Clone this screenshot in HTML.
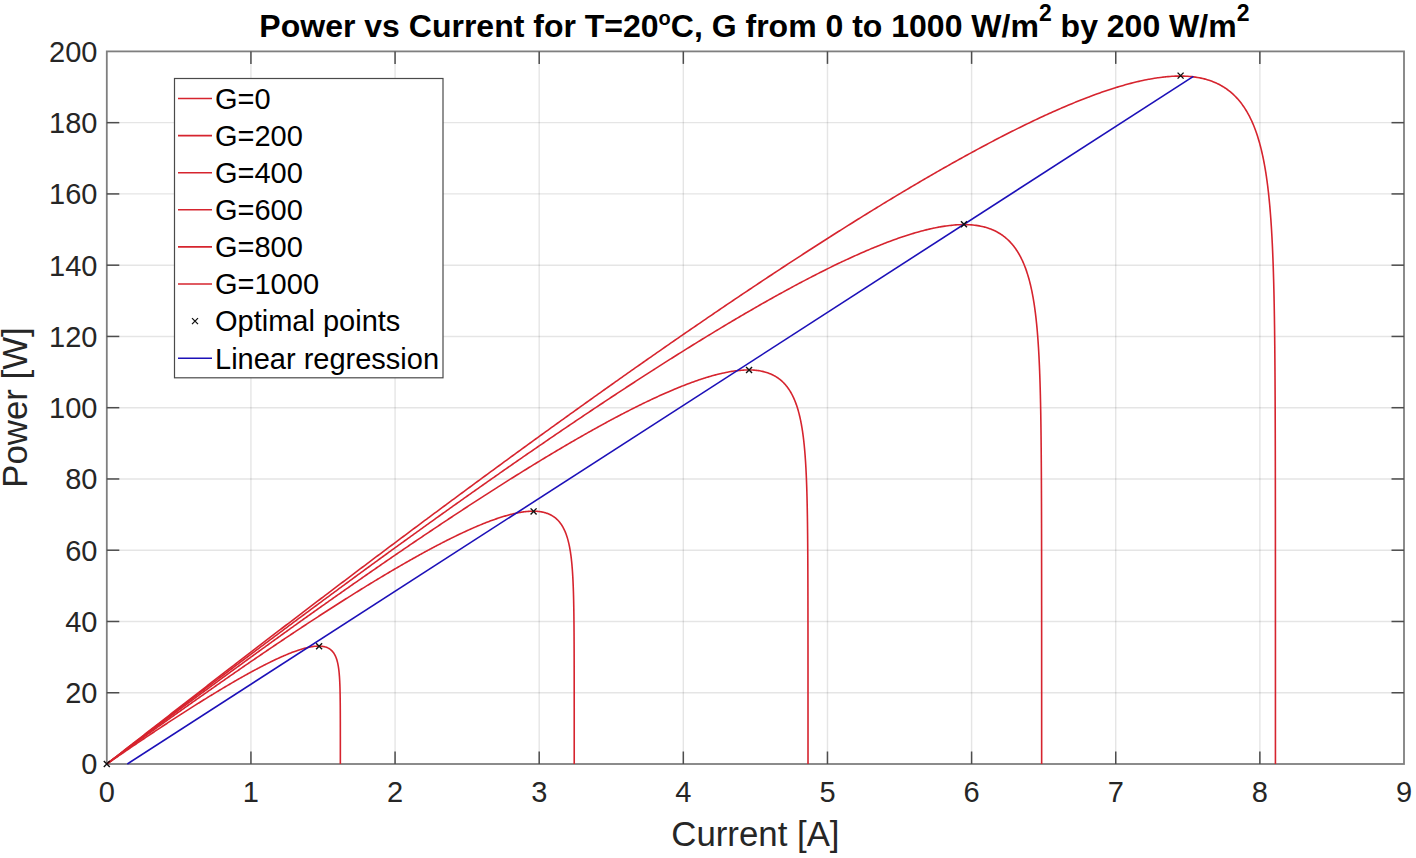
<!DOCTYPE html>
<html><head><meta charset="utf-8"><style>
html,body{margin:0;padding:0;background:#fff;}
body{width:1416px;height:858px;overflow:hidden;}
svg{display:block;font-family:"Liberation Sans",sans-serif;}
</style></head><body>
<svg width="1416" height="858" viewBox="0 0 1416 858">
<rect width="1416" height="858" fill="#fff"/>
<line x1="250.93" y1="51.40" x2="250.93" y2="764.00" stroke="#262626" stroke-opacity="0.12" stroke-width="1.4"/>
<line x1="395.07" y1="51.40" x2="395.07" y2="764.00" stroke="#262626" stroke-opacity="0.12" stroke-width="1.4"/>
<line x1="539.20" y1="51.40" x2="539.20" y2="764.00" stroke="#262626" stroke-opacity="0.12" stroke-width="1.4"/>
<line x1="683.33" y1="51.40" x2="683.33" y2="764.00" stroke="#262626" stroke-opacity="0.12" stroke-width="1.4"/>
<line x1="827.47" y1="51.40" x2="827.47" y2="764.00" stroke="#262626" stroke-opacity="0.12" stroke-width="1.4"/>
<line x1="971.60" y1="51.40" x2="971.60" y2="764.00" stroke="#262626" stroke-opacity="0.12" stroke-width="1.4"/>
<line x1="1115.73" y1="51.40" x2="1115.73" y2="764.00" stroke="#262626" stroke-opacity="0.12" stroke-width="1.4"/>
<line x1="1259.87" y1="51.40" x2="1259.87" y2="764.00" stroke="#262626" stroke-opacity="0.12" stroke-width="1.4"/>
<line x1="106.80" y1="692.74" x2="1404.00" y2="692.74" stroke="#262626" stroke-opacity="0.12" stroke-width="1.4"/>
<line x1="106.80" y1="621.48" x2="1404.00" y2="621.48" stroke="#262626" stroke-opacity="0.12" stroke-width="1.4"/>
<line x1="106.80" y1="550.22" x2="1404.00" y2="550.22" stroke="#262626" stroke-opacity="0.12" stroke-width="1.4"/>
<line x1="106.80" y1="478.96" x2="1404.00" y2="478.96" stroke="#262626" stroke-opacity="0.12" stroke-width="1.4"/>
<line x1="106.80" y1="407.70" x2="1404.00" y2="407.70" stroke="#262626" stroke-opacity="0.12" stroke-width="1.4"/>
<line x1="106.80" y1="336.44" x2="1404.00" y2="336.44" stroke="#262626" stroke-opacity="0.12" stroke-width="1.4"/>
<line x1="106.80" y1="265.18" x2="1404.00" y2="265.18" stroke="#262626" stroke-opacity="0.12" stroke-width="1.4"/>
<line x1="106.80" y1="193.92" x2="1404.00" y2="193.92" stroke="#262626" stroke-opacity="0.12" stroke-width="1.4"/>
<line x1="106.80" y1="122.66" x2="1404.00" y2="122.66" stroke="#262626" stroke-opacity="0.12" stroke-width="1.4"/>
<rect x="106.80" y="51.40" width="1297.20" height="712.60" fill="none" stroke="#7f7f7f" stroke-width="1.8"/>
<line x1="250.93" y1="764.00" x2="250.93" y2="751.50" stroke="#4d4d4d" stroke-width="1.5"/>
<line x1="250.93" y1="51.40" x2="250.93" y2="63.90" stroke="#4d4d4d" stroke-width="1.5"/>
<line x1="395.07" y1="764.00" x2="395.07" y2="751.50" stroke="#4d4d4d" stroke-width="1.5"/>
<line x1="395.07" y1="51.40" x2="395.07" y2="63.90" stroke="#4d4d4d" stroke-width="1.5"/>
<line x1="539.20" y1="764.00" x2="539.20" y2="751.50" stroke="#4d4d4d" stroke-width="1.5"/>
<line x1="539.20" y1="51.40" x2="539.20" y2="63.90" stroke="#4d4d4d" stroke-width="1.5"/>
<line x1="683.33" y1="764.00" x2="683.33" y2="751.50" stroke="#4d4d4d" stroke-width="1.5"/>
<line x1="683.33" y1="51.40" x2="683.33" y2="63.90" stroke="#4d4d4d" stroke-width="1.5"/>
<line x1="827.47" y1="764.00" x2="827.47" y2="751.50" stroke="#4d4d4d" stroke-width="1.5"/>
<line x1="827.47" y1="51.40" x2="827.47" y2="63.90" stroke="#4d4d4d" stroke-width="1.5"/>
<line x1="971.60" y1="764.00" x2="971.60" y2="751.50" stroke="#4d4d4d" stroke-width="1.5"/>
<line x1="971.60" y1="51.40" x2="971.60" y2="63.90" stroke="#4d4d4d" stroke-width="1.5"/>
<line x1="1115.73" y1="764.00" x2="1115.73" y2="751.50" stroke="#4d4d4d" stroke-width="1.5"/>
<line x1="1115.73" y1="51.40" x2="1115.73" y2="63.90" stroke="#4d4d4d" stroke-width="1.5"/>
<line x1="1259.87" y1="764.00" x2="1259.87" y2="751.50" stroke="#4d4d4d" stroke-width="1.5"/>
<line x1="1259.87" y1="51.40" x2="1259.87" y2="63.90" stroke="#4d4d4d" stroke-width="1.5"/>
<line x1="106.80" y1="692.74" x2="119.30" y2="692.74" stroke="#4d4d4d" stroke-width="1.5"/>
<line x1="1404.00" y1="692.74" x2="1391.50" y2="692.74" stroke="#4d4d4d" stroke-width="1.5"/>
<line x1="106.80" y1="621.48" x2="119.30" y2="621.48" stroke="#4d4d4d" stroke-width="1.5"/>
<line x1="1404.00" y1="621.48" x2="1391.50" y2="621.48" stroke="#4d4d4d" stroke-width="1.5"/>
<line x1="106.80" y1="550.22" x2="119.30" y2="550.22" stroke="#4d4d4d" stroke-width="1.5"/>
<line x1="1404.00" y1="550.22" x2="1391.50" y2="550.22" stroke="#4d4d4d" stroke-width="1.5"/>
<line x1="106.80" y1="478.96" x2="119.30" y2="478.96" stroke="#4d4d4d" stroke-width="1.5"/>
<line x1="1404.00" y1="478.96" x2="1391.50" y2="478.96" stroke="#4d4d4d" stroke-width="1.5"/>
<line x1="106.80" y1="407.70" x2="119.30" y2="407.70" stroke="#4d4d4d" stroke-width="1.5"/>
<line x1="1404.00" y1="407.70" x2="1391.50" y2="407.70" stroke="#4d4d4d" stroke-width="1.5"/>
<line x1="106.80" y1="336.44" x2="119.30" y2="336.44" stroke="#4d4d4d" stroke-width="1.5"/>
<line x1="1404.00" y1="336.44" x2="1391.50" y2="336.44" stroke="#4d4d4d" stroke-width="1.5"/>
<line x1="106.80" y1="265.18" x2="119.30" y2="265.18" stroke="#4d4d4d" stroke-width="1.5"/>
<line x1="1404.00" y1="265.18" x2="1391.50" y2="265.18" stroke="#4d4d4d" stroke-width="1.5"/>
<line x1="106.80" y1="193.92" x2="119.30" y2="193.92" stroke="#4d4d4d" stroke-width="1.5"/>
<line x1="1404.00" y1="193.92" x2="1391.50" y2="193.92" stroke="#4d4d4d" stroke-width="1.5"/>
<line x1="106.80" y1="122.66" x2="119.30" y2="122.66" stroke="#4d4d4d" stroke-width="1.5"/>
<line x1="1404.00" y1="122.66" x2="1391.50" y2="122.66" stroke="#4d4d4d" stroke-width="1.5"/>
<path d="M106.80,764.00 L107.58,763.46 L108.36,762.92 L109.14,762.38 L109.92,761.84 L110.70,761.31 L111.48,760.77 L112.26,760.23 L113.04,759.69 L113.82,759.16 L114.60,758.62 L115.38,758.08 L116.07,757.60 L116.94,757.01 L117.72,756.47 L118.50,755.94 L119.28,755.40 L120.06,754.87 L120.57,754.52 L121.23,754.07 L122.01,753.53 L122.79,753.00 L123.57,752.47 L124.35,751.94 L124.98,751.50 L125.52,751.14 L126.30,750.61 L127.08,750.07 L127.85,749.54 L128.63,749.01 L129.30,748.56 L129.80,748.22 L130.58,747.69 L131.36,747.16 L132.14,746.63 L132.92,746.10 L133.53,745.69 L134.09,745.31 L134.87,744.78 L135.65,744.25 L136.43,743.72 L137.21,743.20 L137.99,742.67 L138.77,742.14 L139.55,741.62 L140.33,741.09 L141.11,740.57 L141.74,740.14 L142.28,739.78 L143.06,739.25 L143.84,738.73 L144.62,738.21 L145.40,737.68 L146.18,737.16 L146.96,736.64 L147.74,736.12 L148.52,735.60 L149.30,735.08 L150.08,734.55 L150.86,734.03 L151.64,733.51 L152.42,733.00 L153.20,732.48 L153.98,731.96 L154.76,731.44 L155.54,730.92 L156.32,730.40 L157.10,729.89 L157.88,729.37 L158.66,728.85 L159.44,728.34 L160.22,727.82 L160.88,727.39 L161.39,727.05 L162.17,726.54 L162.95,726.02 L163.73,725.51 L164.48,725.02 L165.29,724.49 L166.07,723.97 L166.85,723.46 L167.63,722.95 L168.41,722.44 L169.18,721.93 L169.96,721.42 L170.74,720.91 L171.46,720.45 L172.30,719.90 L173.08,719.39 L173.86,718.88 L174.64,718.38 L175.42,717.87 L176.20,717.37 L176.98,716.86 L177.76,716.36 L178.54,715.85 L179.32,715.35 L180.10,714.85 L180.88,714.34 L181.42,714.00 L182.05,713.59 L182.83,713.09 L183.61,712.59 L184.39,712.09 L185.17,711.59 L185.95,711.09 L186.73,710.59 L187.51,710.10 L188.29,709.60 L189.07,709.10 L189.85,708.61 L190.63,708.11 L191.41,707.62 L192.19,707.12 L192.97,706.63 L193.75,706.14 L194.53,705.64 L195.31,705.15 L196.09,704.66 L196.73,704.26 L197.26,703.93 L198.04,703.44 L198.82,702.95 L199.60,702.46 L200.38,701.97 L201.16,701.49 L201.94,701.00 L202.72,700.51 L203.50,700.03 L204.28,699.54 L205.06,699.06 L205.84,698.58 L206.62,698.10 L207.40,697.62 L207.91,697.30 L208.57,696.89 L209.35,696.42 L210.13,695.94 L210.90,695.46 L211.68,694.98 L212.46,694.50 L213.17,694.08 L214.02,693.55 L214.80,693.08 L215.58,692.61 L216.36,692.13 L217.14,691.66 L217.92,691.19 L218.70,690.72 L219.48,690.25 L220.26,689.78 L221.04,689.32 L221.82,688.85 L222.60,688.38 L223.38,687.92 L224.16,687.45 L224.94,686.99 L225.72,686.53 L226.50,686.07 L227.28,685.61 L228.06,685.15 L228.84,684.69 L229.62,684.23 L230.40,683.77 L231.18,683.32 L231.96,682.86 L232.74,682.41 L233.52,681.96 L234.30,681.51 L235.08,681.05 L235.86,680.61 L236.49,680.24 L237.03,679.93 L237.81,679.49 L238.57,679.05 L239.37,678.60 L240.15,678.15 L240.93,677.71 L241.71,677.27 L242.49,676.83 L243.27,676.39 L244.05,675.95 L244.58,675.66 L245.22,675.30 L246.00,674.86 L246.78,674.43 L247.56,674.00 L248.34,673.57 L249.12,673.14 L249.90,672.71 L250.68,672.29 L251.46,671.86 L252.03,671.55 L252.62,671.23 L253.40,670.80 L254.18,670.38 L254.96,669.97 L255.54,669.66 L256.13,669.34 L256.91,668.93 L257.69,668.51 L258.47,668.10 L259.25,667.69 L260.03,667.28 L260.81,666.88 L261.59,666.47 L262.14,666.19 L262.76,665.87 L263.54,665.47 L264.32,665.07 L265.10,664.67 L265.88,664.28 L266.66,663.89 L267.44,663.49 L268.22,663.11 L269.00,662.72 L269.67,662.39 L270.56,661.95 L271.34,661.57 L272.12,661.19 L272.90,660.82 L273.68,660.44 L274.46,660.07 L275.18,659.73 L276.02,659.34 L276.80,658.97 L277.58,658.61 L278.36,658.25 L279.02,657.95 L279.92,657.54 L280.70,657.19 L281.45,656.85 L282.26,656.50 L283.04,656.16 L283.79,655.83 L284.60,655.48 L285.38,655.15 L286.04,654.87 L286.94,654.49 L287.72,654.17 L288.50,653.85 L289.24,653.55 L290.06,653.23 L290.84,652.92 L291.62,652.61 L292.26,652.37 L293.18,652.02 L293.95,651.73 L294.73,651.44 L295.51,651.16 L296.29,650.89 L296.89,650.68 L297.46,650.48 L298.24,650.22 L299.02,649.96 L299.80,649.70 L300.58,649.46 L301.36,649.22 L302.14,648.98 L302.92,648.75 L303.70,648.53 L304.48,648.32 L305.26,648.11 L306.04,647.91 L306.82,647.72 L307.60,647.53 L308.28,647.38 L308.92,647.24 L309.55,647.11 L310.17,646.99 L310.78,646.88 L311.37,646.77 L312.28,646.62 L313.06,646.51 L313.84,646.41 L314.62,646.32 L315.40,646.24 L316.18,646.18 L316.96,646.14 L317.62,646.11 L318.52,646.10 L319.30,646.10 L320.08,646.13 L320.86,646.18 L321.64,646.25 L322.42,646.34 L323.20,646.47 L323.92,646.61 L324.57,646.76 L325.20,646.92 L325.80,647.11 L326.38,647.31 L327.10,647.59 L327.72,647.87 L328.27,648.14 L328.94,648.51 L329.61,648.93 L330.22,649.36 L330.84,649.85 L331.39,650.33 L331.93,650.86 L332.43,651.39 L332.90,651.94 L333.34,652.51 L333.73,653.05 L334.12,653.65 L334.51,654.30 L334.85,654.92 L335.17,655.56 L335.48,656.21 L335.77,656.86 L336.04,657.53 L336.29,658.21 L336.53,658.89 L336.76,659.59 L336.97,660.29 L337.17,661.00 L337.36,661.71 L337.53,662.44 L337.70,663.16 L337.86,663.89 L338.00,664.63 L338.14,665.37 L338.27,666.12 L338.40,666.87 L338.51,667.63 L338.62,668.38 L338.72,669.15 L338.82,669.91 L338.91,670.68 L338.99,671.45 L339.07,672.22 L339.15,673.00 L339.22,673.78 L339.29,674.56 L339.35,675.34 L339.41,676.12 L339.47,676.91 L339.52,677.69 L339.57,678.48 L339.61,679.27 L339.66,680.06 L339.70,680.86 L339.74,681.65 L339.77,682.44 L339.81,683.24 L339.84,684.04 L339.87,684.83 L339.90,685.63 L339.93,686.43 L339.95,687.23 L339.98,688.03 L340.00,688.83 L340.02,689.63 L340.04,690.44 L340.06,691.24 L340.07,692.04 L340.09,692.84 L340.11,693.65 L340.12,694.45 L340.14,695.26 L340.15,696.06 L340.16,696.87 L340.17,697.67 L340.18,698.48 L340.19,699.28 L340.20,700.09 L340.21,700.90 L340.22,701.70 L340.23,702.51 L340.24,703.32 L340.24,704.13 L340.25,704.93 L340.26,705.74 L340.26,706.55 L340.27,707.36 L340.27,708.16 L340.28,708.97 L340.28,709.78 L340.29,710.59 L340.29,711.40 L340.29,712.21 L340.30,713.01 L340.30,713.82 L340.30,714.63 L340.31,715.44 L340.31,716.25 L340.31,717.06 L340.31,717.87 L340.32,718.68 L340.32,719.48 L340.32,720.29 L340.32,721.10 L340.33,721.91 L340.33,722.72 L340.33,723.53 L340.33,724.34 L340.33,725.15 L340.33,725.96 L340.33,726.77 L340.34,727.58 L340.34,728.38 L340.34,729.19 L340.34,730.00 L340.34,730.81 L340.34,731.62 L340.34,732.43 L340.34,733.24 L340.34,734.05 L340.34,734.86 L340.34,735.67 L340.35,736.48 L340.35,737.29 L340.35,738.10 L340.35,738.91 L340.35,739.72 L340.35,740.53 L340.35,741.33 L340.35,742.14 L340.35,742.95 L340.35,743.76 L340.35,744.57 L340.35,745.38 L340.35,746.19 L340.35,747.00 L340.35,747.81 L340.35,748.62 L340.35,749.43 L340.35,750.24 L340.35,751.05 L340.35,751.86 L340.35,752.67 L340.35,753.48 L340.35,754.29 L340.35,755.10 L340.35,755.91 L340.35,756.71 L340.35,757.52 L340.35,758.33 L340.35,759.14 L340.35,759.95 L340.35,760.76 L340.35,761.57 L340.35,762.38 L340.35,763.19 L340.35,764.00" fill="none" stroke="#d6242e" stroke-width="1.6" stroke-linejoin="round"/>
<path d="M106.80,764.00 L107.58,763.43 L108.36,762.86 L109.14,762.29 L109.92,761.72 L110.70,761.15 L111.48,760.58 L112.26,760.01 L113.04,759.44 L113.82,758.87 L114.60,758.30 L115.38,757.73 L116.16,757.16 L116.70,756.77 L117.72,756.02 L118.51,755.45 L119.29,754.88 L120.07,754.32 L120.85,753.75 L121.63,753.18 L122.41,752.61 L123.19,752.04 L123.97,751.48 L124.75,750.91 L125.53,750.34 L126.31,749.77 L127.09,749.21 L127.87,748.64 L128.65,748.07 L129.43,747.51 L130.21,746.94 L130.99,746.38 L131.77,745.81 L132.55,745.24 L133.33,744.68 L134.11,744.11 L134.89,743.55 L135.67,742.98 L136.45,742.42 L137.23,741.85 L138.01,741.29 L138.79,740.72 L139.57,740.16 L140.35,739.59 L141.14,739.03 L141.92,738.47 L142.70,737.90 L143.48,737.34 L144.26,736.77 L145.04,736.21 L145.82,735.65 L146.60,735.09 L147.38,734.52 L148.16,733.96 L148.94,733.40 L149.72,732.84 L150.50,732.27 L151.28,731.71 L152.06,731.15 L152.84,730.59 L153.62,730.03 L154.27,729.56 L155.18,728.91 L155.96,728.34 L156.74,727.78 L157.52,727.22 L158.30,726.66 L159.08,726.10 L159.86,725.54 L160.64,724.98 L161.42,724.42 L162.20,723.86 L162.98,723.30 L163.76,722.75 L164.55,722.19 L165.33,721.63 L166.11,721.07 L166.89,720.51 L167.67,719.95 L168.45,719.40 L169.23,718.84 L170.01,718.28 L170.79,717.72 L171.57,717.17 L172.35,716.61 L173.13,716.05 L173.91,715.50 L174.69,714.94 L175.47,714.38 L176.25,713.83 L177.03,713.27 L177.81,712.71 L178.59,712.16 L179.37,711.60 L180.15,711.05 L180.93,710.49 L181.71,709.94 L182.49,709.38 L183.27,708.83 L184.05,708.28 L184.83,707.72 L185.61,707.17 L186.39,706.61 L187.18,706.06 L187.96,705.51 L188.74,704.96 L189.52,704.40 L190.30,703.85 L191.08,703.30 L191.86,702.75 L192.64,702.19 L193.42,701.64 L194.20,701.09 L194.98,700.54 L195.76,699.99 L196.54,699.44 L197.32,698.89 L198.10,698.34 L198.88,697.78 L199.66,697.23 L200.44,696.68 L201.22,696.14 L202.00,695.59 L202.78,695.04 L203.56,694.49 L204.34,693.94 L204.91,693.54 L205.90,692.84 L206.68,692.29 L207.46,691.75 L208.24,691.20 L209.02,690.65 L209.81,690.10 L210.59,689.56 L211.37,689.01 L212.15,688.46 L212.73,688.05 L213.71,687.37 L214.49,686.82 L215.27,686.28 L216.05,685.73 L216.83,685.19 L217.61,684.64 L218.39,684.10 L219.17,683.55 L219.95,683.01 L220.73,682.46 L221.51,681.92 L222.29,681.37 L223.07,680.83 L223.85,680.29 L224.63,679.74 L225.41,679.20 L226.19,678.66 L226.97,678.12 L227.75,677.57 L228.53,677.03 L229.31,676.49 L230.09,675.95 L230.87,675.41 L231.65,674.87 L232.43,674.33 L233.22,673.79 L234.00,673.25 L234.78,672.71 L235.56,672.17 L236.34,671.63 L237.12,671.09 L237.90,670.55 L238.68,670.01 L239.46,669.47 L240.24,668.93 L241.02,668.39 L241.80,667.86 L242.41,667.43 L243.36,666.78 L244.14,666.25 L244.92,665.71 L245.70,665.17 L246.48,664.64 L247.26,664.10 L248.04,663.56 L248.82,663.03 L249.44,662.60 L250.38,661.96 L251.16,661.42 L251.94,660.89 L252.72,660.35 L253.50,659.82 L254.28,659.29 L255.06,658.75 L255.85,658.22 L256.63,657.69 L257.41,657.16 L258.19,656.62 L258.97,656.09 L259.75,655.56 L260.53,655.03 L261.31,654.50 L262.09,653.97 L262.87,653.43 L263.65,652.90 L264.43,652.37 L265.21,651.84 L265.99,651.31 L266.77,650.79 L267.55,650.26 L268.33,649.73 L269.11,649.20 L269.65,648.83 L270.67,648.14 L271.45,647.62 L272.23,647.09 L273.01,646.56 L273.79,646.04 L274.57,645.51 L275.35,644.98 L276.11,644.47 L276.91,643.93 L277.69,643.41 L278.48,642.88 L279.26,642.36 L280.04,641.83 L280.82,641.31 L281.60,640.79 L282.38,640.26 L283.16,639.74 L283.94,639.22 L284.72,638.69 L285.50,638.17 L286.28,637.65 L287.06,637.13 L287.84,636.61 L288.61,636.09 L289.40,635.57 L290.18,635.05 L290.96,634.53 L291.74,634.01 L292.52,633.49 L293.30,632.97 L294.08,632.45 L294.66,632.07 L295.64,631.41 L296.42,630.90 L297.20,630.38 L297.98,629.86 L298.76,629.35 L299.54,628.83 L300.32,628.31 L301.10,627.80 L301.89,627.28 L302.67,626.77 L303.45,626.25 L304.23,625.74 L305.01,625.23 L305.79,624.71 L306.38,624.32 L307.35,623.69 L308.13,623.17 L308.91,622.66 L309.69,622.15 L310.47,621.64 L311.25,621.13 L312.03,620.62 L312.81,620.11 L313.59,619.60 L314.37,619.09 L315.15,618.58 L315.93,618.07 L316.71,617.56 L317.49,617.05 L318.27,616.55 L319.05,616.04 L319.83,615.53 L320.61,615.03 L321.39,614.52 L322.17,614.02 L322.95,613.51 L323.73,613.01 L324.52,612.50 L325.30,612.00 L326.08,611.49 L326.86,610.99 L327.64,610.49 L328.37,610.01 L329.20,609.48 L329.98,608.98 L330.76,608.48 L331.54,607.98 L332.32,607.48 L333.10,606.98 L333.88,606.48 L334.66,605.98 L335.44,605.48 L336.22,604.98 L337.00,604.49 L337.78,603.99 L338.56,603.49 L339.34,603.00 L340.12,602.50 L340.90,602.00 L341.68,601.51 L342.46,601.01 L343.24,600.52 L344.02,600.03 L344.80,599.53 L345.58,599.04 L346.36,598.55 L347.15,598.06 L347.93,597.56 L348.56,597.17 L349.49,596.58 L350.27,596.09 L351.05,595.60 L351.83,595.11 L352.61,594.63 L353.34,594.17 L354.17,593.65 L354.95,593.16 L355.73,592.68 L356.51,592.19 L357.29,591.70 L358.02,591.25 L358.85,590.73 L359.63,590.25 L360.41,589.77 L361.19,589.28 L361.97,588.80 L362.60,588.41 L363.53,587.84 L364.31,587.36 L365.09,586.88 L365.87,586.40 L366.65,585.92 L367.43,585.44 L368.21,584.96 L368.99,584.48 L369.77,584.01 L370.56,583.53 L371.34,583.05 L372.12,582.58 L372.90,582.10 L373.68,581.63 L374.46,581.15 L375.24,580.68 L375.77,580.36 L376.80,579.74 L377.58,579.27 L378.36,578.79 L379.14,578.32 L379.92,577.85 L380.70,577.39 L381.48,576.92 L382.26,576.45 L383.04,575.98 L383.82,575.52 L384.60,575.05 L385.38,574.59 L386.16,574.12 L386.94,573.66 L387.72,573.19 L388.50,572.73 L389.28,572.27 L390.06,571.81 L390.84,571.35 L391.62,570.89 L392.40,570.43 L393.19,569.97 L393.97,569.51 L394.75,569.05 L395.53,568.60 L396.31,568.14 L397.09,567.69 L397.87,567.23 L398.65,566.78 L399.43,566.32 L400.21,565.87 L400.99,565.42 L401.77,564.97 L402.55,564.52 L403.33,564.07 L404.11,563.62 L404.89,563.17 L405.67,562.73 L406.45,562.28 L407.02,561.96 L408.01,561.39 L408.79,560.95 L409.57,560.50 L410.35,560.06 L411.13,559.62 L411.91,559.18 L412.69,558.74 L413.47,558.30 L414.03,557.99 L415.03,557.43 L415.82,556.99 L416.60,556.55 L417.38,556.12 L418.16,555.69 L418.94,555.25 L419.72,554.82 L420.50,554.39 L421.28,553.96 L422.06,553.53 L422.84,553.10 L423.62,552.67 L424.40,552.25 L425.18,551.82 L425.96,551.40 L426.74,550.97 L427.52,550.55 L428.30,550.13 L429.08,549.71 L429.86,549.29 L430.64,548.87 L431.42,548.45 L432.20,548.04 L432.98,547.62 L433.76,547.21 L434.54,546.80 L435.32,546.38 L436.10,545.97 L436.88,545.56 L437.66,545.15 L438.45,544.75 L439.23,544.34 L440.01,543.93 L440.79,543.53 L441.57,543.13 L442.11,542.84 L443.13,542.32 L443.91,541.92 L444.69,541.53 L445.47,541.13 L446.25,540.73 L447.03,540.34 L447.65,540.02 L448.59,539.55 L449.37,539.16 L450.15,538.77 L450.93,538.38 L451.71,538.00 L452.49,537.61 L453.27,537.23 L454.05,536.85 L454.83,536.46 L455.53,536.13 L456.39,535.71 L457.17,535.33 L457.95,534.95 L458.73,534.58 L459.51,534.21 L460.29,533.84 L461.07,533.47 L461.86,533.10 L462.64,532.73 L463.42,532.37 L464.20,532.01 L464.98,531.65 L465.76,531.29 L466.54,530.93 L467.32,530.57 L468.10,530.22 L468.88,529.87 L469.66,529.51 L470.44,529.17 L471.22,528.82 L472.00,528.47 L472.78,528.13 L473.56,527.79 L474.22,527.50 L475.12,527.11 L475.90,526.78 L476.68,526.44 L477.46,526.11 L478.24,525.78 L479.02,525.46 L479.80,525.13 L480.44,524.87 L481.36,524.49 L482.14,524.17 L482.92,523.85 L483.70,523.54 L484.37,523.27 L485.27,522.92 L486.05,522.61 L486.83,522.31 L487.61,522.01 L488.39,521.71 L489.17,521.41 L489.95,521.12 L490.73,520.83 L491.51,520.54 L492.29,520.25 L493.07,519.97 L493.85,519.69 L494.63,519.41 L495.21,519.21 L496.19,518.87 L496.88,518.63 L497.75,518.34 L498.52,518.08 L499.31,517.82 L500.09,517.56 L500.87,517.31 L501.65,517.06 L502.43,516.82 L503.21,516.58 L503.99,516.34 L504.74,516.12 L505.55,515.88 L506.21,515.69 L507.12,515.43 L507.90,515.22 L508.68,515.00 L509.46,514.80 L510.24,514.59 L511.02,514.39 L511.79,514.20 L512.58,514.01 L513.36,513.82 L514.14,513.64 L514.92,513.47 L515.68,513.30 L516.48,513.13 L517.26,512.97 L518.04,512.82 L518.82,512.67 L519.60,512.53 L520.38,512.39 L521.16,512.26 L521.94,512.14 L522.72,512.02 L523.50,511.91 L524.28,511.81 L524.90,511.73 L525.84,511.63 L526.62,511.54 L527.40,511.47 L528.18,511.41 L528.95,511.35 L529.74,511.30 L530.53,511.27 L531.31,511.24 L532.09,511.22 L532.87,511.21 L533.55,511.21 L534.41,511.22 L535.21,511.24 L535.99,511.28 L536.77,511.32 L537.55,511.38 L538.33,511.45 L539.11,511.54 L539.89,511.64 L540.67,511.75 L541.39,511.87 L542.08,512.00 L542.77,512.14 L543.43,512.28 L544.08,512.44 L544.72,512.61 L545.35,512.79 L545.96,512.97 L546.56,513.17 L547.15,513.37 L547.72,513.58 L548.28,513.80 L549.25,514.21 L549.90,514.51 L550.81,514.97 L551.41,515.29 L552.37,515.84 L553.16,516.34 L553.73,516.72 L554.59,517.34 L555.41,517.98 L556.20,518.65 L556.95,519.33 L557.68,520.04 L558.37,520.77 L559.04,521.51 L559.67,522.28 L560.18,522.92 L560.58,523.46 L560.96,523.99 L561.43,524.67 L561.96,525.50 L562.48,526.35 L562.97,527.21 L563.30,527.81 L563.67,528.52 L564.08,529.33 L564.54,530.31 L564.86,531.02 L565.14,531.68 L565.52,532.60 L565.89,533.54 L566.24,534.49 L566.57,535.44 L566.89,536.41 L567.20,537.38 L567.49,538.36 L567.78,539.35 L567.98,540.10 L568.18,540.84 L568.43,541.85 L568.67,542.86 L568.91,543.88 L569.13,544.90 L569.34,545.93 L569.54,546.93 L569.74,548.00 L569.93,549.05 L570.11,550.10 L570.29,551.15 L570.45,552.20 L570.61,553.27 L570.76,554.33 L570.91,555.40 L571.04,556.47 L571.18,557.54 L571.31,558.62 L571.43,559.70 L571.55,560.79 L571.66,561.87 L571.77,562.96 L571.87,564.05 L571.97,565.15 L572.06,566.24 L572.15,567.34 L572.24,568.44 L572.32,569.54 L572.40,570.65 L572.48,571.75 L572.55,572.86 L572.62,573.97 L572.66,574.64 L572.72,575.64 L572.79,576.75 L572.85,577.86 L572.90,578.98 L572.96,580.10 L573.01,581.21 L573.06,582.33 L573.11,583.45 L573.16,584.57 L573.20,585.70 L573.25,586.82 L573.29,587.94 L573.33,589.07 L573.36,590.19 L573.40,591.32 L573.44,592.45 L573.47,593.57 L573.50,594.70 L573.53,595.83 L573.56,596.96 L573.59,598.09 L573.61,599.22 L573.64,600.35 L573.66,601.49 L573.69,602.62 L573.71,603.75 L573.73,604.88 L573.75,606.02 L573.77,607.15 L573.79,608.29 L573.81,609.42 L573.83,610.56 L573.84,611.69 L573.86,612.83 L573.88,613.96 L573.89,615.10 L573.90,616.24 L573.92,617.37 L573.93,618.51 L573.94,619.65 L573.95,620.78 L573.97,621.92 L573.98,623.06 L573.99,624.20 L574.00,625.34 L574.01,626.48 L574.02,627.61 L574.02,628.75 L574.03,629.89 L574.04,631.03 L574.05,632.17 L574.06,633.31 L574.06,634.45 L574.07,635.59 L574.08,636.73 L574.08,637.87 L574.09,639.01 L574.09,640.15 L574.10,641.29 L574.11,642.43 L574.11,643.57 L574.12,644.71 L574.12,645.85 L574.12,646.99 L574.13,648.13 L574.13,649.27 L574.14,650.41 L574.14,651.55 L574.14,652.69 L574.15,653.83 L574.15,654.97 L574.15,656.11 L574.16,657.26 L574.16,658.40 L574.16,659.54 L574.17,660.68 L574.17,661.82 L574.17,662.96 L574.17,664.10 L574.17,665.24 L574.18,666.38 L574.18,667.53 L574.18,668.67 L574.18,669.81 L574.18,670.95 L574.19,672.09 L574.19,673.23 L574.19,674.37 L574.19,675.52 L574.19,676.66 L574.19,677.80 L574.20,678.94 L574.20,680.08 L574.20,681.22 L574.20,682.36 L574.20,683.51 L574.20,684.65 L574.20,685.79 L574.20,686.93 L574.20,688.07 L574.20,689.21 L574.21,690.36 L574.21,691.50 L574.21,692.64 L574.21,693.78 L574.21,694.92 L574.21,696.06 L574.21,697.21 L574.21,698.35 L574.21,699.49 L574.21,700.63 L574.21,701.77 L574.21,702.91 L574.21,704.06 L574.21,705.20 L574.21,706.34 L574.22,707.48 L574.22,708.62 L574.22,709.76 L574.22,710.91 L574.22,712.05 L574.22,713.19 L574.22,714.33 L574.22,715.47 L574.22,716.62 L574.22,717.76 L574.22,718.90 L574.22,720.04 L574.22,721.18 L574.22,722.32 L574.22,723.47 L574.22,724.61 L574.22,725.75 L574.22,726.89 L574.22,728.03 L574.22,729.17 L574.22,730.32 L574.22,731.46 L574.22,732.60 L574.22,733.74 L574.22,734.88 L574.22,736.03 L574.22,737.17 L574.22,738.31 L574.22,739.45 L574.22,740.59 L574.22,741.73 L574.22,742.88 L574.22,744.02 L574.22,745.16 L574.22,746.30 L574.22,747.44 L574.22,748.59 L574.22,749.73 L574.22,750.87 L574.22,752.01 L574.22,753.15 L574.22,754.29 L574.22,755.44 L574.22,756.58 L574.22,757.72 L574.22,758.86 L574.22,760.00 L574.22,761.15 L574.22,762.29 L574.22,763.43 L574.22,764.00" fill="none" stroke="#d6242e" stroke-width="1.6" stroke-linejoin="round"/>
<path d="M106.80,764.00 L107.97,763.12 L109.14,762.23 L110.31,761.35 L111.48,760.47 L112.65,759.59 L113.82,758.70 L114.99,757.82 L116.17,756.94 L117.34,756.06 L118.51,755.18 L119.68,754.29 L120.85,753.41 L122.02,752.53 L123.19,751.65 L124.36,750.77 L125.53,749.89 L126.70,749.01 L127.87,748.13 L129.04,747.25 L130.21,746.37 L131.38,745.50 L132.55,744.62 L133.72,743.74 L134.90,742.86 L136.07,741.98 L137.11,741.20 L138.41,740.23 L139.58,739.35 L140.75,738.47 L141.92,737.60 L143.09,736.72 L144.26,735.84 L145.43,734.97 L146.60,734.09 L147.77,733.22 L148.94,732.34 L150.11,731.47 L151.28,730.59 L151.77,730.23 L152.45,729.72 L153.63,728.84 L154.80,727.97 L155.97,727.10 L157.14,726.22 L158.31,725.35 L159.48,724.48 L160.65,723.60 L161.82,722.73 L162.99,721.86 L164.16,720.99 L165.33,720.11 L166.11,719.54 L167.67,718.37 L168.84,717.50 L170.01,716.63 L171.18,715.76 L172.36,714.89 L173.53,714.02 L174.70,713.15 L175.87,712.28 L177.04,711.41 L178.21,710.54 L179.38,709.67 L180.14,709.11 L181.72,707.94 L182.89,707.07 L184.06,706.20 L185.23,705.33 L186.40,704.47 L187.57,703.60 L188.74,702.73 L189.91,701.87 L191.09,701.00 L192.26,700.14 L193.43,699.27 L194.60,698.41 L195.77,697.54 L196.94,696.68 L198.11,695.81 L199.28,694.95 L200.45,694.08 L201.62,693.22 L202.79,692.36 L203.96,691.49 L205.13,690.63 L206.30,689.77 L207.28,689.05 L208.64,688.04 L209.82,687.18 L210.99,686.32 L212.16,685.46 L213.33,684.60 L214.50,683.74 L215.67,682.88 L216.84,682.02 L218.01,681.16 L219.18,680.30 L220.35,679.44 L221.52,678.58 L222.69,677.72 L223.86,676.87 L225.03,676.01 L226.20,675.15 L227.38,674.29 L228.55,673.44 L229.72,672.58 L230.89,671.72 L232.06,670.87 L233.23,670.01 L234.40,669.16 L235.57,668.30 L236.74,667.45 L237.91,666.59 L239.08,665.74 L240.25,664.88 L241.42,664.03 L242.59,663.18 L243.76,662.32 L244.93,661.47 L245.80,660.84 L247.28,659.77 L248.45,658.92 L249.62,658.06 L250.79,657.21 L251.96,656.36 L253.13,655.51 L254.30,654.66 L255.47,653.81 L256.64,652.96 L257.81,652.11 L258.98,651.27 L260.15,650.42 L261.32,649.57 L262.49,648.72 L263.66,647.87 L264.84,647.03 L266.01,646.18 L267.18,645.33 L268.35,644.49 L269.52,643.64 L270.10,643.22 L270.69,642.79 L271.86,641.95 L273.03,641.10 L274.20,640.26 L275.37,639.42 L276.54,638.57 L277.71,637.73 L278.88,636.89 L280.05,636.04 L281.22,635.20 L281.86,634.74 L282.39,634.36 L283.57,633.52 L284.74,632.67 L285.91,631.83 L287.08,630.99 L288.25,630.15 L289.42,629.31 L290.59,628.47 L291.76,627.63 L292.93,626.79 L294.10,625.96 L295.27,625.12 L296.44,624.28 L297.61,623.44 L298.78,622.60 L299.95,621.77 L301.12,620.93 L302.30,620.10 L303.47,619.26 L304.60,618.45 L305.81,617.59 L306.98,616.75 L308.15,615.92 L309.32,615.09 L310.49,614.25 L311.66,613.42 L312.83,612.59 L314.00,611.75 L315.17,610.92 L316.34,610.09 L317.51,609.26 L318.68,608.43 L319.86,607.60 L321.03,606.77 L322.20,605.94 L323.37,605.11 L324.54,604.28 L325.71,603.45 L326.36,602.99 L326.88,602.62 L328.05,601.80 L329.22,600.97 L330.39,600.14 L331.56,599.32 L332.73,598.49 L333.90,597.66 L335.07,596.84 L336.24,596.01 L336.89,595.56 L337.41,595.19 L338.59,594.37 L339.76,593.54 L340.93,592.72 L342.10,591.90 L343.27,591.07 L344.44,590.25 L345.61,589.43 L346.78,588.61 L347.95,587.79 L349.12,586.97 L350.29,586.15 L351.46,585.33 L352.63,584.51 L353.80,583.69 L354.97,582.88 L356.14,582.06 L357.25,581.29 L358.49,580.42 L359.66,579.61 L360.83,578.79 L362.00,577.98 L363.17,577.16 L364.34,576.35 L365.51,575.53 L366.68,574.72 L367.85,573.91 L369.02,573.09 L370.19,572.28 L371.36,571.47 L372.53,570.66 L373.70,569.85 L374.87,569.04 L376.05,568.23 L376.74,567.75 L378.39,566.61 L379.56,565.80 L380.73,564.99 L381.90,564.19 L383.07,563.38 L384.24,562.57 L385.41,561.77 L386.16,561.25 L387.75,560.16 L388.92,559.35 L390.09,558.55 L391.26,557.74 L392.43,556.94 L393.60,556.14 L394.78,555.34 L395.38,554.92 L395.95,554.54 L397.12,553.73 L398.29,552.93 L399.46,552.13 L400.63,551.34 L401.80,550.54 L402.97,549.74 L404.14,548.94 L405.31,548.14 L406.48,547.35 L407.65,546.55 L408.82,545.75 L409.99,544.96 L411.16,544.16 L412.33,543.37 L413.21,542.77 L414.68,541.78 L415.85,540.99 L417.02,540.20 L418.19,539.41 L419.36,538.62 L420.53,537.83 L421.70,537.04 L422.87,536.25 L424.04,535.46 L425.21,534.67 L426.38,533.89 L427.55,533.10 L428.72,532.31 L429.89,531.53 L431.07,530.74 L432.24,529.96 L433.41,529.17 L434.58,528.39 L435.75,527.61 L436.92,526.83 L438.09,526.04 L439.26,525.26 L440.43,524.48 L441.60,523.70 L442.77,522.93 L443.94,522.15 L445.11,521.37 L446.28,520.59 L447.45,519.82 L448.62,519.04 L449.80,518.27 L450.97,517.49 L452.14,516.72 L453.31,515.94 L454.48,515.17 L455.65,514.40 L456.82,513.63 L457.99,512.86 L459.16,512.09 L460.33,511.32 L461.50,510.55 L462.23,510.07 L463.84,509.02 L465.01,508.25 L466.18,507.48 L467.35,506.72 L468.53,505.95 L469.70,505.19 L470.87,504.43 L472.04,503.67 L473.21,502.90 L474.38,502.14 L475.55,501.38 L476.72,500.62 L477.89,499.87 L479.06,499.11 L480.23,498.35 L481.40,497.59 L482.57,496.84 L483.74,496.08 L484.40,495.66 L484.91,495.33 L486.08,494.58 L487.26,493.82 L488.43,493.07 L489.60,492.32 L490.77,491.57 L491.48,491.12 L493.11,490.07 L494.28,489.33 L495.45,488.58 L496.62,487.83 L497.79,487.09 L498.39,486.70 L498.96,486.34 L500.13,485.60 L501.30,484.86 L502.47,484.11 L503.64,483.37 L504.81,482.63 L505.99,481.89 L507.16,481.15 L508.33,480.42 L509.50,479.68 L510.67,478.94 L511.78,478.25 L513.01,477.47 L514.18,476.74 L515.35,476.01 L516.52,475.28 L517.69,474.55 L518.25,474.20 L518.86,473.82 L520.03,473.09 L521.20,472.36 L522.37,471.63 L523.55,470.91 L524.58,470.27 L525.89,469.46 L527.06,468.74 L528.23,468.01 L529.40,467.29 L530.57,466.57 L531.74,465.85 L532.91,465.13 L534.08,464.42 L535.25,463.70 L536.42,462.99 L537.59,462.27 L538.76,461.56 L539.93,460.85 L541.10,460.14 L542.28,459.43 L543.45,458.72 L544.62,458.01 L545.79,457.30 L546.96,456.60 L548.13,455.89 L549.30,455.19 L550.47,454.49 L551.64,453.79 L552.81,453.09 L553.98,452.39 L555.15,451.69 L556.32,450.99 L557.49,450.30 L558.66,449.60 L559.77,448.95 L561.01,448.22 L562.18,447.53 L563.35,446.84 L564.52,446.15 L565.19,445.75 L566.86,444.78 L568.03,444.10 L569.20,443.41 L570.37,442.73 L571.54,442.05 L572.71,441.37 L573.88,440.69 L575.05,440.02 L575.69,439.65 L576.22,439.34 L577.39,438.67 L578.56,438.00 L579.74,437.32 L580.77,436.73 L582.08,435.99 L583.25,435.32 L584.42,434.65 L585.59,433.99 L586.76,433.33 L587.93,432.67 L589.10,432.01 L590.27,431.35 L591.44,430.69 L592.61,430.04 L593.78,429.39 L594.95,428.73 L596.12,428.08 L597.29,427.43 L598.47,426.79 L599.64,426.14 L600.81,425.50 L601.98,424.86 L603.15,424.22 L604.32,423.58 L605.49,422.94 L606.66,422.30 L607.83,421.67 L608.98,421.05 L610.17,420.41 L611.34,419.78 L612.51,419.15 L613.33,418.72 L614.85,417.91 L616.02,417.29 L617.20,416.67 L618.37,416.05 L619.54,415.43 L620.71,414.82 L621.74,414.28 L623.05,413.60 L624.22,412.99 L625.39,412.39 L626.56,411.79 L627.73,411.18 L628.90,410.59 L629.79,410.13 L631.24,409.39 L632.41,408.80 L633.58,408.21 L634.76,407.62 L635.93,407.04 L637.10,406.45 L638.27,405.87 L639.44,405.30 L640.61,404.72 L641.22,404.42 L641.78,404.15 L642.95,403.57 L644.12,403.01 L644.87,402.64 L646.46,401.87 L647.63,401.31 L648.43,400.93 L649.97,400.20 L651.14,399.65 L651.92,399.28 L653.49,398.55 L654.66,398.00 L655.33,397.69 L657.00,396.92 L658.17,396.39 L659.34,395.85 L660.51,395.32 L661.68,394.79 L662.85,394.27 L664.02,393.75 L665.12,393.26 L666.36,392.72 L667.53,392.20 L668.25,391.90 L669.87,391.19 L671.04,390.69 L672.22,390.19 L673.39,389.70 L674.29,389.32 L675.73,388.72 L676.90,388.24 L678.07,387.76 L679.24,387.28 L680.07,386.95 L681.58,386.34 L682.75,385.88 L683.92,385.42 L685.09,384.97 L686.26,384.51 L687.43,384.07 L688.27,383.75 L689.77,383.19 L690.89,382.78 L692.12,382.33 L693.29,381.90 L694.46,381.48 L695.63,381.07 L696.80,380.66 L697.97,380.26 L699.14,379.86 L700.31,379.46 L701.48,379.08 L702.65,378.69 L703.82,378.32 L704.99,377.95 L706.16,377.58 L707.33,377.22 L708.50,376.87 L709.68,376.53 L710.85,376.19 L712.01,375.85 L713.19,375.53 L714.11,375.27 L715.53,374.89 L716.16,374.73 L717.87,374.29 L719.04,374.00 L720.13,373.74 L721.38,373.44 L722.05,373.29 L723.72,372.92 L724.89,372.67 L725.76,372.49 L727.24,372.20 L728.41,371.98 L729.32,371.81 L730.75,371.56 L731.92,371.37 L732.72,371.25 L734.26,371.02 L735.43,370.86 L736.60,370.71 L737.55,370.60 L738.94,370.45 L740.11,370.34 L741.28,370.24 L742.07,370.18 L743.51,370.09 L744.79,370.03 L745.97,369.99 L747.14,369.96 L748.31,369.95 L748.96,369.95 L750.25,369.97 L751.52,370.01 L752.75,370.07 L753.96,370.15 L755.14,370.25 L756.30,370.37 L757.43,370.50 L758.53,370.65 L759.61,370.82 L760.67,371.01 L761.70,371.21 L762.35,371.35 L763.52,371.62 L764.67,371.92 L765.62,372.18 L766.55,372.47 L767.45,372.76 L768.21,373.02 L769.21,373.39 L770.05,373.73 L770.88,374.08 L771.69,374.44 L772.49,374.81 L773.26,375.20 L774.02,375.59 L774.77,376.00 L775.49,376.42 L776.20,376.86 L776.90,377.30 L777.57,377.75 L778.24,378.21 L778.74,378.58 L779.53,379.17 L780.15,379.66 L780.76,380.16 L781.36,380.68 L781.94,381.20 L782.51,381.72 L783.07,382.26 L783.61,382.81 L784.14,383.36 L784.60,383.84 L785.18,384.49 L785.67,385.06 L786.16,385.65 L786.64,386.24 L787.11,386.84 L787.56,387.44 L788.01,388.05 L788.45,388.67 L788.87,389.29 L789.28,389.90 L789.70,390.56 L790.10,391.20 L790.45,391.78 L790.88,392.50 L791.25,393.16 L791.62,393.83 L791.97,394.50 L792.33,395.17 L792.67,395.85 L793.00,396.54 L793.33,397.23 L793.65,397.92 L793.96,398.61 L794.27,399.32 L794.57,400.03 L794.87,400.74 L795.13,401.40 L795.43,402.18 L795.71,402.90 L795.98,403.63 L796.24,404.36 L796.50,405.09 L796.75,405.83 L797.00,406.57 L797.24,407.32 L797.47,408.07 L797.70,408.82 L797.93,409.57 L798.15,410.33 L798.36,411.09 L798.57,411.86 L798.78,412.63 L798.98,413.39 L799.18,414.17 L799.37,414.94 L799.56,415.72 L799.75,416.50 L799.93,417.28 L800.10,418.07 L800.28,418.86 L800.44,419.65 L800.61,420.44 L800.77,421.23 L800.93,422.03 L801.08,422.83 L801.24,423.63 L801.38,424.43 L801.53,425.24 L801.67,426.04 L801.81,426.85 L801.94,427.66 L802.08,428.47 L802.21,429.29 L802.33,430.10 L802.46,430.92 L802.58,431.74 L802.70,432.56 L802.81,433.38 L802.93,434.20 L803.04,435.03 L803.15,435.85 L803.25,436.68 L803.36,437.51 L803.46,438.34 L803.56,439.17 L803.66,440.00 L803.75,440.84 L803.84,441.67 L803.93,442.51 L804.02,443.35 L804.11,444.18 L804.20,445.02 L804.28,445.86 L804.36,446.71 L804.44,447.55 L804.50,448.16 L804.59,449.24 L804.67,450.08 L804.74,450.93 L804.81,451.78 L804.88,452.63 L804.95,453.47 L805.02,454.32 L805.08,455.18 L805.15,456.03 L805.21,456.88 L805.27,457.73 L805.33,458.59 L805.39,459.44 L805.45,460.30 L805.50,461.15 L805.56,462.01 L805.61,462.87 L805.66,463.73 L805.72,464.58 L805.77,465.44 L805.81,466.30 L805.86,467.16 L805.91,468.02 L805.96,468.89 L806.00,469.75 L806.04,470.61 L806.09,471.47 L806.13,472.34 L806.17,473.20 L806.21,474.07 L806.25,474.93 L806.29,475.80 L806.33,476.66 L806.36,477.53 L806.40,478.39 L806.43,479.26 L806.47,480.13 L806.50,481.00 L806.53,481.87 L806.57,482.73 L806.60,483.60 L806.63,484.47 L806.66,485.34 L806.69,486.21 L806.72,487.08 L806.75,487.95 L806.77,488.83 L806.80,489.70 L806.83,490.57 L806.85,491.44 L806.88,492.31 L806.90,493.19 L806.93,494.06 L806.95,494.93 L806.97,495.80 L807.00,496.68 L807.02,497.55 L807.04,498.43 L807.06,499.30 L807.08,500.17 L807.10,501.05 L807.12,501.92 L807.14,502.80 L807.16,503.67 L807.18,504.55 L807.20,505.43 L807.22,506.30 L807.23,507.18 L807.25,508.05 L807.27,508.93 L807.28,509.81 L807.30,510.68 L807.31,511.56 L807.33,512.44 L807.34,513.32 L807.36,514.19 L807.37,515.07 L807.39,515.95 L807.40,516.83 L807.41,517.71 L807.43,518.58 L807.44,519.46 L807.45,520.34 L807.46,521.22 L807.48,522.10 L807.49,522.98 L807.50,523.86 L807.51,524.73 L807.52,525.61 L807.53,526.49 L807.54,527.37 L807.55,528.25 L807.56,529.13 L807.57,530.01 L807.58,530.89 L807.59,531.77 L807.60,532.65 L807.61,533.53 L807.62,534.41 L807.63,535.29 L807.64,536.17 L807.64,537.05 L807.65,537.93 L807.66,538.81 L807.67,539.69 L807.67,540.57 L807.68,541.46 L807.69,542.34 L807.70,543.22 L807.70,544.10 L807.71,544.98 L807.72,545.86 L807.72,546.74 L807.73,547.62 L807.73,548.50 L807.74,549.39 L807.75,550.27 L807.75,551.15 L807.76,552.03 L807.76,552.91 L807.77,553.79 L807.77,554.67 L807.78,555.56 L807.78,556.44 L807.79,557.32 L807.79,558.20 L807.80,559.08 L807.80,559.97 L807.81,560.85 L807.81,561.73 L807.82,562.61 L807.82,563.49 L807.83,564.38 L807.83,565.26 L807.83,566.14 L807.84,567.02 L807.84,567.90 L807.84,568.79 L807.85,569.67 L807.85,570.55 L807.86,571.43 L807.86,572.32 L807.86,573.20 L807.86,574.08 L807.87,574.96 L807.87,575.85 L807.87,576.73 L807.88,577.61 L807.88,578.49 L807.88,579.38 L807.89,580.26 L807.89,581.14 L807.89,582.02 L807.89,582.91 L807.90,583.79 L807.90,584.67 L807.90,585.56 L807.90,586.44 L807.91,587.32 L807.91,588.20 L807.91,589.09 L807.91,589.97 L807.91,590.85 L807.92,591.74 L807.92,592.62 L807.92,593.50 L807.92,594.38 L807.92,595.27 L807.93,596.15 L807.93,597.03 L807.93,597.92 L807.93,598.80 L807.93,599.68 L807.94,600.56 L807.94,601.45 L807.94,602.33 L807.94,603.21 L807.94,604.10 L807.94,604.98 L807.94,605.86 L807.95,606.75 L807.95,607.63 L807.95,608.51 L807.95,609.40 L807.95,610.28 L807.95,611.16 L807.95,612.05 L807.96,612.93 L807.96,613.81 L807.96,614.70 L807.96,615.58 L807.96,616.46 L807.96,617.34 L807.96,618.23 L807.96,619.11 L807.96,619.99 L807.96,620.88 L807.97,621.76 L807.97,622.64 L807.97,623.53 L807.97,624.41 L807.97,625.29 L807.97,626.18 L807.97,627.06 L807.97,627.94 L807.97,628.83 L807.97,629.71 L807.97,630.59 L807.98,631.48 L807.98,632.36 L807.98,633.24 L807.98,634.13 L807.98,635.01 L807.98,635.89 L807.98,636.78 L807.98,637.66 L807.98,638.54 L807.98,639.43 L807.98,640.31 L807.98,641.19 L807.98,642.08 L807.98,642.96 L807.98,643.84 L807.99,644.73 L807.99,645.61 L807.99,646.49 L807.99,647.38 L807.99,648.26 L807.99,649.15 L807.99,650.03 L807.99,650.91 L807.99,651.80 L807.99,652.68 L807.99,653.56 L807.99,654.45 L807.99,655.33 L807.99,656.21 L807.99,657.10 L807.99,657.98 L807.99,658.86 L807.99,659.75 L807.99,660.63 L807.99,661.51 L807.99,662.40 L807.99,663.28 L807.99,664.16 L808.00,665.05 L808.00,665.93 L808.00,666.81 L808.00,667.70 L808.00,668.58 L808.00,669.46 L808.00,670.35 L808.00,671.23 L808.00,672.11 L808.00,673.00 L808.00,673.88 L808.00,674.77 L808.00,675.65 L808.00,676.53 L808.00,677.42 L808.00,678.30 L808.00,679.18 L808.00,680.07 L808.00,680.95 L808.00,681.83 L808.00,682.72 L808.00,683.60 L808.00,684.48 L808.00,685.37 L808.00,686.25 L808.00,687.13 L808.00,688.02 L808.00,688.90 L808.00,689.78 L808.00,690.67 L808.00,691.55 L808.00,692.44 L808.00,693.32 L808.00,694.20 L808.00,695.09 L808.00,695.97 L808.00,696.85 L808.00,697.74 L808.00,698.62 L808.00,699.50 L808.00,700.39 L808.00,701.27 L808.00,702.15 L808.00,703.04 L808.00,703.92 L808.00,704.80 L808.00,705.69 L808.00,706.57 L808.00,707.45 L808.00,708.34 L808.00,709.22 L808.01,710.11 L808.01,710.99 L808.01,711.87 L808.01,712.76 L808.01,713.64 L808.01,714.52 L808.01,715.41 L808.01,716.29 L808.01,717.17 L808.01,718.06 L808.01,718.94 L808.01,719.82 L808.01,720.71 L808.01,721.59 L808.01,722.47 L808.01,723.36 L808.01,724.24 L808.01,725.12 L808.01,726.01 L808.01,726.89 L808.01,727.78 L808.01,728.66 L808.01,729.54 L808.01,730.43 L808.01,731.31 L808.01,732.19 L808.01,733.08 L808.01,733.96 L808.01,734.84 L808.01,735.73 L808.01,736.61 L808.01,737.49 L808.01,738.38 L808.01,739.26 L808.01,740.14 L808.01,741.03 L808.01,741.91 L808.01,742.80 L808.01,743.68 L808.01,744.56 L808.01,745.45 L808.01,746.33 L808.01,747.21 L808.01,748.10 L808.01,748.98 L808.01,749.86 L808.01,750.75 L808.01,751.63 L808.01,752.51 L808.01,753.40 L808.01,754.28 L808.01,755.16 L808.01,756.05 L808.01,756.93 L808.01,757.82 L808.01,758.70 L808.01,759.58 L808.01,760.47 L808.01,761.35 L808.01,762.23 L808.01,763.12 L808.01,764.00" fill="none" stroke="#d6242e" stroke-width="1.6" stroke-linejoin="round"/>
<path d="M106.80,764.00 L108.36,762.80 L109.92,761.59 L111.48,760.39 L113.04,759.19 L114.60,757.99 L116.16,756.78 L117.72,755.58 L119.29,754.38 L120.85,753.18 L122.41,751.98 L123.97,750.78 L125.53,749.58 L127.09,748.38 L127.67,747.94 L128.65,747.18 L130.21,745.98 L131.77,744.78 L133.33,743.58 L134.89,742.39 L136.45,741.19 L138.01,739.99 L139.57,738.79 L141.14,737.60 L142.70,736.40 L144.26,735.20 L145.82,734.01 L147.38,732.81 L148.07,732.28 L148.94,731.62 L150.50,730.42 L152.06,729.23 L153.62,728.03 L155.18,726.84 L156.74,725.64 L158.30,724.45 L159.86,723.26 L161.42,722.06 L162.98,720.87 L164.55,719.68 L166.11,718.49 L167.67,717.30 L169.23,716.11 L170.79,714.91 L172.35,713.72 L173.91,712.53 L175.47,711.34 L177.03,710.15 L178.59,708.97 L180.15,707.78 L181.71,706.59 L183.27,705.40 L184.83,704.21 L186.39,703.02 L187.51,702.17 L189.52,700.65 L191.08,699.46 L192.64,698.28 L194.20,697.09 L195.76,695.91 L197.32,694.72 L198.88,693.54 L200.44,692.35 L202.00,691.17 L203.56,689.99 L205.12,688.80 L206.58,687.70 L208.24,686.44 L209.81,685.25 L211.37,684.07 L212.93,682.89 L214.49,681.71 L216.05,680.53 L217.61,679.35 L219.17,678.17 L220.73,676.99 L222.29,675.81 L223.85,674.63 L225.22,673.60 L226.97,672.27 L228.53,671.09 L230.09,669.92 L231.65,668.74 L233.22,667.56 L234.78,666.39 L236.34,665.21 L237.90,664.03 L239.46,662.86 L241.02,661.68 L242.58,660.51 L243.44,659.86 L244.14,659.34 L245.70,658.16 L247.26,656.99 L248.82,655.82 L250.38,654.64 L251.94,653.47 L253.50,652.30 L255.06,651.13 L256.63,649.96 L258.19,648.78 L259.75,647.61 L261.26,646.48 L262.87,645.27 L264.43,644.11 L265.99,642.94 L267.55,641.77 L269.11,640.60 L270.67,639.43 L272.23,638.27 L273.79,637.10 L275.35,635.93 L276.91,634.77 L278.48,633.60 L280.04,632.44 L281.60,631.27 L283.16,630.11 L284.72,628.94 L286.28,627.78 L287.84,626.62 L289.40,625.45 L290.96,624.29 L292.52,623.13 L294.08,621.97 L295.64,620.81 L297.20,619.64 L298.76,618.48 L300.32,617.32 L301.89,616.17 L303.45,615.01 L305.01,613.85 L306.57,612.69 L308.13,611.53 L309.69,610.37 L311.25,609.22 L312.36,608.40 L314.37,606.91 L315.93,605.75 L317.49,604.59 L319.05,603.44 L320.61,602.29 L322.17,601.13 L323.73,599.98 L325.30,598.83 L326.86,597.67 L328.42,596.52 L329.98,595.37 L331.54,594.22 L333.10,593.07 L334.66,591.92 L336.22,590.77 L337.78,589.62 L339.34,588.47 L340.90,587.32 L342.46,586.17 L344.02,585.03 L344.55,584.64 L345.58,583.88 L347.15,582.73 L348.71,581.59 L350.27,580.44 L351.83,579.30 L353.39,578.15 L354.95,577.01 L356.51,575.86 L358.07,574.72 L359.63,573.58 L361.19,572.44 L362.75,571.29 L364.31,570.15 L365.87,569.01 L367.43,567.87 L368.99,566.73 L370.56,565.59 L372.12,564.45 L373.68,563.32 L375.24,562.18 L376.80,561.04 L378.36,559.90 L379.92,558.77 L381.48,557.63 L383.04,556.50 L384.60,555.36 L386.16,554.23 L387.72,553.09 L389.28,551.96 L390.20,551.30 L390.84,550.83 L392.40,549.70 L393.97,548.56 L395.53,547.43 L397.09,546.30 L398.65,545.17 L400.21,544.04 L401.77,542.91 L403.33,541.79 L404.74,540.77 L406.45,539.53 L408.01,538.40 L409.57,537.28 L411.13,536.15 L412.69,535.03 L414.25,533.90 L415.82,532.78 L417.38,531.65 L418.94,530.53 L420.50,529.41 L422.06,528.29 L423.62,527.17 L425.18,526.04 L426.74,524.92 L428.30,523.80 L429.86,522.69 L431.42,521.57 L432.85,520.54 L434.54,519.33 L436.10,518.21 L437.66,517.10 L439.23,515.98 L440.79,514.87 L442.35,513.75 L443.91,512.64 L445.47,511.53 L446.44,510.83 L447.03,510.41 L448.59,509.30 L450.15,508.19 L451.71,507.08 L453.27,505.97 L454.83,504.86 L456.39,503.75 L457.95,502.64 L459.51,501.54 L461.07,500.43 L462.64,499.32 L464.20,498.22 L465.76,497.11 L467.32,496.01 L468.88,494.90 L470.44,493.80 L472.00,492.70 L472.72,492.19 L473.56,491.59 L475.12,490.49 L476.68,489.39 L478.24,488.29 L479.80,487.19 L481.36,486.09 L482.92,485.00 L484.49,483.90 L485.42,483.24 L486.05,482.80 L487.61,481.70 L489.17,480.61 L490.73,479.51 L492.29,478.42 L493.85,477.33 L495.41,476.23 L496.97,475.14 L497.83,474.54 L498.53,474.05 L500.09,472.96 L501.65,471.87 L503.21,470.78 L504.77,469.69 L506.33,468.61 L507.90,467.52 L509.46,466.43 L509.97,466.07 L511.02,465.35 L512.58,464.26 L514.14,463.18 L515.70,462.09 L517.26,461.01 L518.82,459.93 L520.38,458.85 L521.84,457.84 L523.50,456.69 L525.06,455.61 L526.62,454.53 L528.18,453.45 L529.74,452.38 L531.31,451.30 L532.87,450.22 L533.44,449.83 L534.43,449.15 L535.99,448.08 L537.55,447.00 L539.11,445.93 L540.67,444.86 L542.23,443.79 L543.79,442.72 L544.79,442.04 L545.35,441.65 L546.91,440.58 L548.47,439.52 L550.03,438.45 L551.59,437.38 L553.16,436.32 L554.72,435.25 L555.88,434.46 L557.84,433.13 L559.40,432.07 L560.96,431.01 L562.52,429.95 L564.08,428.89 L565.64,427.83 L566.72,427.10 L568.76,425.72 L570.32,424.66 L571.88,423.61 L573.44,422.55 L575.00,421.50 L576.57,420.45 L577.32,419.94 L578.13,419.40 L579.69,418.35 L581.25,417.30 L582.81,416.25 L584.37,415.20 L585.93,414.16 L587.49,413.11 L589.05,412.07 L590.61,411.02 L592.17,409.98 L593.73,408.94 L595.29,407.90 L596.85,406.86 L597.82,406.22 L598.41,405.82 L599.98,404.78 L601.54,403.74 L603.10,402.71 L604.66,401.67 L606.22,400.64 L607.72,399.64 L609.34,398.57 L610.90,397.54 L612.46,396.51 L614.02,395.48 L615.58,394.46 L617.14,393.43 L618.70,392.40 L620.26,391.38 L621.83,390.36 L623.39,389.33 L624.95,388.31 L626.51,387.29 L628.07,386.27 L629.63,385.25 L631.19,384.24 L632.75,383.22 L634.31,382.21 L635.87,381.19 L637.43,380.18 L638.99,379.17 L640.55,378.16 L642.11,377.15 L643.67,376.14 L645.19,375.16 L646.80,374.13 L648.36,373.12 L649.92,372.12 L651.48,371.12 L653.04,370.12 L654.04,369.48 L654.60,369.12 L656.16,368.12 L657.72,367.12 L659.28,366.13 L660.84,365.13 L662.40,364.14 L663.96,363.15 L665.52,362.15 L667.09,361.16 L668.65,360.18 L670.21,359.19 L671.15,358.59 L671.77,358.20 L673.33,357.22 L674.89,356.24 L676.45,355.25 L678.01,354.27 L679.42,353.39 L681.13,352.32 L682.69,351.34 L684.25,350.37 L685.81,349.39 L687.37,348.42 L688.93,347.45 L690.50,346.48 L692.06,345.51 L693.62,344.55 L695.18,343.58 L696.74,342.62 L698.30,341.66 L699.86,340.70 L701.42,339.74 L702.98,338.78 L704.54,337.83 L706.10,336.87 L707.66,335.92 L709.22,334.97 L710.69,334.07 L712.34,333.07 L713.91,332.13 L715.47,331.18 L717.03,330.24 L718.08,329.60 L720.15,328.36 L721.71,327.42 L723.27,326.48 L724.83,325.55 L726.39,324.62 L727.95,323.68 L729.51,322.76 L731.07,321.83 L732.36,321.06 L734.19,319.98 L735.76,319.06 L737.32,318.14 L738.88,317.22 L740.44,316.30 L742.00,315.39 L743.56,314.47 L745.12,313.56 L746.02,313.04 L746.68,312.66 L748.24,311.75 L749.80,310.84 L751.36,309.94 L752.62,309.22 L754.48,308.14 L756.04,307.24 L757.60,306.35 L759.07,305.51 L760.73,304.57 L762.29,303.68 L763.85,302.79 L765.38,301.93 L766.97,301.03 L768.53,300.15 L770.09,299.27 L771.54,298.46 L773.21,297.52 L774.77,296.65 L776.33,295.78 L777.57,295.10 L779.45,294.06 L781.01,293.20 L782.58,292.34 L783.47,291.85 L784.14,291.48 L785.70,290.63 L787.26,289.78 L788.82,288.93 L790.38,288.08 L791.94,287.24 L793.50,286.40 L794.86,285.67 L796.62,284.73 L798.18,283.89 L799.74,283.06 L800.37,282.73 L801.30,282.24 L802.86,281.41 L804.43,280.59 L805.76,279.89 L807.55,278.96 L809.11,278.15 L810.67,277.34 L812.23,276.53 L813.79,275.73 L815.35,274.93 L816.17,274.51 L816.91,274.13 L818.47,273.34 L820.03,272.55 L821.20,271.95 L823.15,270.97 L824.71,270.19 L826.12,269.49 L827.84,268.64 L829.40,267.87 L830.93,267.12 L832.52,266.34 L834.08,265.58 L835.64,264.83 L837.20,264.07 L838.76,263.33 L840.24,262.62 L841.88,261.84 L843.44,261.10 L844.73,260.50 L846.56,259.64 L848.12,258.92 L849.13,258.46 L849.68,258.20 L851.25,257.48 L852.81,256.77 L853.42,256.49 L854.37,256.06 L855.93,255.36 L857.49,254.66 L859.05,253.97 L860.61,253.28 L861.73,252.79 L863.73,251.92 L865.29,251.24 L866.85,250.57 L868.41,249.91 L869.68,249.37 L871.53,248.59 L873.10,247.94 L874.66,247.30 L876.22,246.66 L877.27,246.23 L879.34,245.40 L880.90,244.78 L882.46,244.17 L884.02,243.56 L885.58,242.95 L887.14,242.36 L888.03,242.02 L888.70,241.77 L890.26,241.18 L891.46,240.74 L893.38,240.03 L894.81,239.52 L896.51,238.91 L898.07,238.36 L899.63,237.82 L901.19,237.28 L902.75,236.76 L904.31,236.24 L905.87,235.72 L907.43,235.22 L908.99,234.73 L910.48,234.26 L912.11,233.76 L913.41,233.37 L915.23,232.83 L916.27,232.53 L918.35,231.94 L919.07,231.73 L919.92,231.50 L921.48,231.08 L923.04,230.67 L924.48,230.29 L926.16,229.87 L927.10,229.64 L927.72,229.49 L929.28,229.12 L930.84,228.77 L932.16,228.47 L933.96,228.09 L934.60,227.95 L935.52,227.77 L936.99,227.48 L938.64,227.16 L939.33,227.04 L940.20,226.88 L941.61,226.64 L943.33,226.36 L944.89,226.12 L946.03,225.96 L948.01,225.69 L949.57,225.50 L950.25,225.42 L951.13,225.33 L952.29,225.21 L954.25,225.03 L955.81,224.91 L957.37,224.81 L958.14,224.77 L958.93,224.73 L960.00,224.69 L961.83,224.63 L963.61,224.61 L965.18,224.62 L966.74,224.65 L968.30,224.71 L969.86,224.79 L971.42,224.90 L972.98,225.03 L974.54,225.20 L976.10,225.40 L977.66,225.63 L979.22,225.89 L980.77,226.19 L982.13,226.48 L983.46,226.79 L984.75,227.12 L985.46,227.32 L987.02,227.78 L988.48,228.25 L989.67,228.67 L990.83,229.10 L991.71,229.45 L993.07,230.03 L994.15,230.52 L994.83,230.83 L996.25,231.54 L997.26,232.08 L997.95,232.47 L999.22,233.21 L1000.17,233.80 L1001.07,234.38 L1002.00,235.02 L1002.63,235.46 L1003.75,236.29 L1004.60,236.95 L1005.43,237.62 L1006.23,238.31 L1007.02,239.00 L1007.80,239.71 L1008.55,240.43 L1009.29,241.17 L1010.01,241.91 L1010.44,242.36 L1011.41,243.43 L1012.00,244.10 L1012.75,245.00 L1013.39,245.79 L1014.02,246.60 L1014.64,247.42 L1015.12,248.07 L1015.83,249.08 L1016.41,249.93 L1016.97,250.78 L1017.52,251.64 L1018.06,252.51 L1018.59,253.39 L1019.10,254.27 L1019.60,255.17 L1020.10,256.07 L1020.58,256.98 L1021.05,257.90 L1021.36,258.52 L1021.96,259.75 L1022.40,260.68 L1022.83,261.63 L1023.25,262.58 L1023.66,263.53 L1024.06,264.49 L1024.45,265.46 L1024.84,266.44 L1025.21,267.41 L1025.58,268.40 L1025.94,269.39 L1026.29,270.38 L1026.63,271.38 L1026.97,272.39 L1027.29,273.40 L1027.60,274.38 L1027.93,275.43 L1028.23,276.46 L1028.53,277.48 L1028.83,278.52 L1029.11,279.55 L1029.39,280.59 L1029.67,281.64 L1029.93,282.69 L1030.19,283.74 L1030.45,284.80 L1030.70,285.86 L1030.94,286.92 L1031.18,287.99 L1031.42,289.06 L1031.65,290.13 L1031.87,291.21 L1032.09,292.28 L1032.28,293.29 L1032.51,294.45 L1032.71,295.54 L1032.91,296.63 L1033.11,297.73 L1033.30,298.82 L1033.48,299.92 L1033.67,301.03 L1033.85,302.13 L1034.02,303.24 L1034.19,304.35 L1034.36,305.46 L1034.52,306.57 L1034.68,307.69 L1034.83,308.81 L1034.99,309.93 L1035.13,311.05 L1035.28,312.17 L1035.41,313.17 L1035.56,314.43 L1035.70,315.56 L1035.83,316.69 L1035.96,317.82 L1036.09,318.96 L1036.21,320.10 L1036.33,321.23 L1036.45,322.37 L1036.57,323.52 L1036.68,324.66 L1036.79,325.80 L1036.90,326.95 L1036.97,327.67 L1037.11,329.25 L1037.21,330.40 L1037.31,331.55 L1037.41,332.70 L1037.50,333.86 L1037.59,335.01 L1037.69,336.17 L1037.77,337.33 L1037.86,338.49 L1037.94,339.65 L1038.03,340.81 L1038.11,341.97 L1038.19,343.13 L1038.26,344.30 L1038.34,345.46 L1038.41,346.63 L1038.49,347.79 L1038.53,348.47 L1038.63,350.13 L1038.69,351.30 L1038.76,352.47 L1038.82,353.64 L1038.89,354.82 L1038.95,355.99 L1039.01,357.16 L1039.07,358.34 L1039.13,359.51 L1039.18,360.69 L1039.24,361.86 L1039.29,363.04 L1039.34,364.22 L1039.40,365.40 L1039.45,366.58 L1039.49,367.76 L1039.54,368.94 L1039.59,370.12 L1039.64,371.30 L1039.68,372.48 L1039.72,373.66 L1039.77,374.85 L1039.81,376.03 L1039.85,377.22 L1039.89,378.40 L1039.93,379.59 L1039.97,380.77 L1040.01,381.96 L1040.04,383.14 L1040.08,384.33 L1040.11,385.52 L1040.15,386.70 L1040.18,387.89 L1040.21,389.08 L1040.25,390.27 L1040.28,391.46 L1040.31,392.65 L1040.34,393.84 L1040.37,395.03 L1040.40,396.22 L1040.42,397.41 L1040.45,398.60 L1040.48,399.79 L1040.50,400.99 L1040.53,402.18 L1040.56,403.37 L1040.58,404.56 L1040.60,405.76 L1040.63,406.95 L1040.65,408.14 L1040.67,409.34 L1040.69,410.53 L1040.72,411.72 L1040.74,412.92 L1040.76,414.11 L1040.78,415.31 L1040.80,416.50 L1040.81,417.70 L1040.83,418.89 L1040.85,420.09 L1040.87,421.29 L1040.89,422.48 L1040.90,423.68 L1040.92,424.87 L1040.94,426.07 L1040.95,427.27 L1040.97,428.47 L1040.98,429.66 L1041.00,430.86 L1041.01,432.06 L1041.03,433.25 L1041.04,434.45 L1041.05,435.65 L1041.07,436.85 L1041.08,438.05 L1041.09,439.25 L1041.11,440.44 L1041.12,441.64 L1041.13,442.84 L1041.14,444.04 L1041.15,445.24 L1041.16,446.44 L1041.18,447.64 L1041.19,448.84 L1041.20,450.04 L1041.21,451.24 L1041.22,452.44 L1041.23,453.64 L1041.24,454.83 L1041.24,456.03 L1041.25,457.23 L1041.26,458.43 L1041.27,459.64 L1041.28,460.84 L1041.29,462.04 L1041.30,463.24 L1041.30,464.44 L1041.31,465.64 L1041.32,466.84 L1041.33,468.04 L1041.33,469.24 L1041.34,470.44 L1041.35,471.64 L1041.35,472.84 L1041.36,474.04 L1041.37,475.24 L1041.37,476.45 L1041.38,477.65 L1041.39,478.85 L1041.39,480.05 L1041.40,481.25 L1041.40,482.45 L1041.41,483.65 L1041.41,484.86 L1041.42,486.06 L1041.42,487.26 L1041.43,488.46 L1041.43,489.66 L1041.44,490.86 L1041.44,492.07 L1041.45,493.27 L1041.45,494.47 L1041.46,495.67 L1041.46,496.87 L1041.47,498.08 L1041.47,499.28 L1041.47,500.48 L1041.48,501.68 L1041.48,502.89 L1041.49,504.09 L1041.49,505.29 L1041.49,506.49 L1041.50,507.69 L1041.50,508.90 L1041.50,510.10 L1041.51,511.30 L1041.51,512.50 L1041.51,513.71 L1041.52,514.91 L1041.52,516.11 L1041.52,517.31 L1041.52,518.52 L1041.53,519.72 L1041.53,520.92 L1041.53,522.12 L1041.54,523.33 L1041.54,524.53 L1041.54,525.73 L1041.54,526.94 L1041.55,528.14 L1041.55,529.34 L1041.55,530.54 L1041.55,531.75 L1041.55,532.95 L1041.56,534.15 L1041.56,535.36 L1041.56,536.56 L1041.56,537.76 L1041.56,538.96 L1041.57,540.17 L1041.57,541.37 L1041.57,542.57 L1041.57,543.78 L1041.57,544.98 L1041.58,546.18 L1041.58,547.38 L1041.58,548.59 L1041.58,549.79 L1041.58,550.99 L1041.58,552.20 L1041.58,553.40 L1041.59,554.60 L1041.59,555.81 L1041.59,557.01 L1041.59,558.21 L1041.59,559.42 L1041.59,560.62 L1041.59,561.82 L1041.60,563.03 L1041.60,564.23 L1041.60,565.43 L1041.60,566.63 L1041.60,567.84 L1041.60,569.04 L1041.60,570.24 L1041.60,571.45 L1041.60,572.65 L1041.61,573.85 L1041.61,575.06 L1041.61,576.26 L1041.61,577.46 L1041.61,578.67 L1041.61,579.87 L1041.61,581.07 L1041.61,582.28 L1041.61,583.48 L1041.61,584.68 L1041.61,585.89 L1041.62,587.09 L1041.62,588.29 L1041.62,589.50 L1041.62,590.70 L1041.62,591.90 L1041.62,593.11 L1041.62,594.31 L1041.62,595.51 L1041.62,596.72 L1041.62,597.92 L1041.62,599.12 L1041.62,600.33 L1041.62,601.53 L1041.62,602.73 L1041.62,603.94 L1041.63,605.14 L1041.63,606.34 L1041.63,607.55 L1041.63,608.75 L1041.63,609.95 L1041.63,611.16 L1041.63,612.36 L1041.63,613.56 L1041.63,614.77 L1041.63,615.97 L1041.63,617.17 L1041.63,618.38 L1041.63,619.58 L1041.63,620.79 L1041.63,621.99 L1041.63,623.19 L1041.63,624.40 L1041.63,625.60 L1041.63,626.80 L1041.63,628.01 L1041.63,629.21 L1041.63,630.41 L1041.64,631.62 L1041.64,632.82 L1041.64,634.02 L1041.64,635.23 L1041.64,636.43 L1041.64,637.63 L1041.64,638.84 L1041.64,640.04 L1041.64,641.24 L1041.64,642.45 L1041.64,643.65 L1041.64,644.85 L1041.64,646.06 L1041.64,647.26 L1041.64,648.46 L1041.64,649.67 L1041.64,650.87 L1041.64,652.07 L1041.64,653.28 L1041.64,654.48 L1041.64,655.69 L1041.64,656.89 L1041.64,658.09 L1041.64,659.30 L1041.64,660.50 L1041.64,661.70 L1041.64,662.91 L1041.64,664.11 L1041.64,665.31 L1041.64,666.52 L1041.64,667.72 L1041.64,668.92 L1041.64,670.13 L1041.64,671.33 L1041.64,672.53 L1041.64,673.74 L1041.64,674.94 L1041.64,676.14 L1041.64,677.35 L1041.64,678.55 L1041.64,679.75 L1041.64,680.96 L1041.64,682.16 L1041.64,683.37 L1041.64,684.57 L1041.64,685.77 L1041.64,686.98 L1041.64,688.18 L1041.64,689.38 L1041.65,690.59 L1041.65,691.79 L1041.65,692.99 L1041.65,694.20 L1041.65,695.40 L1041.65,696.60 L1041.65,697.81 L1041.65,699.01 L1041.65,700.21 L1041.65,701.42 L1041.65,702.62 L1041.65,703.82 L1041.65,705.03 L1041.65,706.23 L1041.65,707.44 L1041.65,708.64 L1041.65,709.84 L1041.65,711.05 L1041.65,712.25 L1041.65,713.45 L1041.65,714.66 L1041.65,715.86 L1041.65,717.06 L1041.65,718.27 L1041.65,719.47 L1041.65,720.67 L1041.65,721.88 L1041.65,723.08 L1041.65,724.28 L1041.65,725.49 L1041.65,726.69 L1041.65,727.89 L1041.65,729.10 L1041.65,730.30 L1041.65,731.51 L1041.65,732.71 L1041.65,733.91 L1041.65,735.12 L1041.65,736.32 L1041.65,737.52 L1041.65,738.73 L1041.65,739.93 L1041.65,741.13 L1041.65,742.34 L1041.65,743.54 L1041.65,744.74 L1041.65,745.95 L1041.65,747.15 L1041.65,748.35 L1041.65,749.56 L1041.65,750.76 L1041.65,751.96 L1041.65,753.17 L1041.65,754.37 L1041.65,755.58 L1041.65,756.78 L1041.65,757.98 L1041.65,759.19 L1041.65,760.39 L1041.65,761.59 L1041.65,762.80 L1041.65,764.00" fill="none" stroke="#d6242e" stroke-width="1.6" stroke-linejoin="round"/>
<path d="M106.80,764.00 L108.75,762.47 L110.70,760.94 L112.65,759.41 L114.60,757.89 L116.55,756.36 L118.51,754.83 L120.46,753.30 L122.41,751.78 L124.36,750.25 L126.31,748.73 L128.26,747.20 L130.21,745.68 L132.16,744.15 L133.31,743.25 L134.11,742.63 L136.06,741.10 L138.02,739.58 L139.97,738.06 L141.92,736.53 L143.87,735.01 L145.82,733.49 L147.77,731.97 L149.72,730.45 L151.67,728.93 L153.62,727.41 L155.57,725.89 L157.53,724.37 L159.22,723.05 L161.43,721.33 L163.38,719.81 L165.33,718.29 L167.28,716.77 L169.23,715.26 L171.18,713.74 L173.13,712.22 L175.08,710.71 L177.04,709.19 L178.99,707.68 L180.94,706.16 L182.89,704.65 L184.54,703.37 L186.79,701.62 L188.74,700.11 L190.69,698.60 L192.64,697.08 L194.59,695.57 L196.54,694.06 L198.50,692.55 L200.45,691.04 L202.40,689.53 L204.35,688.02 L206.30,686.51 L208.25,685.00 L209.29,684.20 L210.20,683.49 L212.15,681.98 L214.10,680.48 L216.05,678.97 L218.01,677.46 L219.96,675.96 L221.91,674.45 L223.86,672.95 L225.81,671.44 L227.76,669.94 L229.71,668.43 L231.66,666.93 L233.47,665.53 L235.56,663.92 L237.52,662.42 L239.47,660.92 L241.42,659.42 L243.37,657.92 L245.32,656.42 L247.27,654.92 L249.22,653.42 L251.17,651.92 L253.12,650.42 L255.07,648.92 L257.02,647.42 L258.98,645.92 L260.93,644.43 L262.88,642.93 L264.83,641.43 L266.78,639.94 L268.73,638.44 L270.68,636.95 L272.63,635.46 L274.58,633.96 L276.53,632.47 L278.49,630.98 L280.21,629.66 L282.39,627.99 L284.34,626.50 L286.29,625.01 L288.24,623.52 L290.19,622.03 L292.14,620.54 L294.09,619.05 L296.04,617.56 L298.00,616.08 L299.95,614.59 L301.90,613.10 L302.79,612.42 L303.85,611.61 L305.80,610.13 L307.75,608.64 L309.70,607.16 L311.65,605.67 L313.60,604.19 L315.55,602.71 L317.51,601.22 L319.46,599.74 L321.41,598.26 L323.36,596.78 L324.85,595.64 L327.26,593.82 L329.21,592.34 L331.16,590.86 L333.11,589.38 L335.06,587.90 L337.01,586.42 L338.97,584.94 L340.92,583.47 L342.87,581.99 L344.82,580.52 L346.42,579.31 L348.72,577.57 L350.67,576.09 L352.62,574.62 L354.57,573.14 L356.52,571.67 L358.48,570.20 L360.43,568.73 L362.38,567.26 L364.33,565.79 L366.28,564.32 L367.49,563.40 L368.23,562.85 L370.18,561.38 L372.13,559.91 L374.08,558.44 L376.03,556.98 L377.99,555.51 L379.94,554.04 L381.89,552.58 L383.84,551.11 L385.79,549.65 L387.74,548.18 L389.69,546.72 L391.64,545.26 L393.59,543.80 L395.54,542.33 L397.50,540.87 L399.45,539.41 L401.40,537.95 L403.35,536.49 L405.30,535.04 L407.25,533.58 L408.22,532.85 L409.20,532.12 L411.15,530.66 L413.10,529.21 L415.05,527.75 L417.00,526.30 L418.96,524.84 L420.91,523.39 L422.86,521.93 L424.81,520.48 L426.76,519.03 L427.89,518.19 L428.71,517.58 L430.66,516.13 L432.61,514.68 L434.56,513.23 L436.51,511.78 L438.47,510.33 L440.42,508.88 L442.37,507.44 L444.32,505.99 L446.27,504.54 L447.12,503.91 L448.22,503.10 L450.17,501.65 L452.12,500.21 L454.07,498.77 L456.02,497.32 L457.98,495.88 L459.93,494.44 L461.88,493.00 L463.83,491.56 L465.78,490.12 L467.73,488.68 L469.68,487.24 L471.63,485.80 L473.58,484.37 L475.53,482.93 L477.48,481.50 L479.44,480.06 L481.39,478.63 L483.34,477.19 L484.27,476.51 L485.29,475.76 L487.24,474.33 L489.19,472.90 L491.14,471.47 L493.09,470.04 L495.04,468.61 L496.99,467.18 L498.95,465.75 L500.90,464.32 L502.22,463.35 L502.85,462.90 L504.80,461.47 L506.75,460.05 L508.70,458.62 L510.65,457.20 L512.60,455.77 L514.55,454.35 L516.50,452.93 L518.46,451.51 L519.76,450.56 L520.41,450.09 L522.36,448.67 L524.31,447.25 L526.26,445.83 L528.21,444.42 L530.16,443.00 L532.11,441.58 L534.06,440.17 L536.01,438.76 L536.90,438.11 L537.97,437.34 L539.92,435.93 L541.87,434.52 L543.82,433.11 L545.77,431.70 L547.72,430.29 L549.67,428.88 L551.62,427.47 L553.57,426.06 L555.52,424.66 L557.47,423.25 L559.43,421.84 L561.38,420.44 L563.33,419.04 L565.28,417.64 L567.23,416.23 L569.18,414.83 L570.03,414.22 L571.13,413.43 L573.08,412.03 L575.03,410.64 L576.98,409.24 L578.94,407.84 L580.89,406.44 L582.84,405.05 L584.79,403.66 L586.03,402.77 L586.74,402.26 L588.69,400.87 L590.64,399.48 L592.59,398.09 L594.54,396.70 L596.49,395.31 L598.45,393.92 L600.40,392.53 L601.67,391.62 L602.35,391.15 L604.30,389.76 L606.25,388.38 L608.20,386.99 L610.15,385.61 L612.10,384.23 L614.05,382.85 L616.00,381.47 L616.96,380.79 L617.96,380.09 L619.91,378.71 L621.86,377.33 L623.81,375.95 L625.76,374.58 L627.71,373.20 L629.66,371.83 L631.61,370.46 L633.56,369.09 L635.51,367.72 L637.46,366.35 L639.42,364.98 L641.37,363.61 L643.32,362.24 L645.27,360.88 L646.49,360.02 L647.22,359.51 L649.17,358.15 L651.12,356.78 L653.07,355.42 L655.02,354.06 L656.97,352.70 L658.93,351.34 L660.76,350.06 L662.83,348.63 L664.78,347.27 L666.73,345.92 L668.68,344.56 L670.63,343.21 L672.58,341.86 L674.53,340.51 L676.48,339.16 L678.44,337.81 L680.39,336.46 L682.34,335.11 L684.29,333.77 L686.24,332.42 L688.19,331.08 L690.14,329.74 L692.09,328.40 L694.04,327.06 L695.99,325.72 L697.94,324.38 L699.90,323.05 L701.65,321.84 L703.80,320.38 L705.75,319.04 L707.70,317.71 L709.65,316.38 L711.60,315.05 L713.55,313.72 L714.67,312.96 L715.50,312.40 L717.45,311.07 L719.41,309.75 L721.36,308.42 L723.31,307.10 L725.26,305.78 L727.21,304.46 L729.16,303.14 L731.11,301.82 L733.06,300.51 L735.01,299.19 L736.96,297.88 L738.92,296.57 L739.82,295.96 L740.87,295.26 L742.82,293.95 L744.77,292.64 L746.72,291.33 L748.67,290.02 L750.62,288.72 L751.97,287.82 L752.57,287.42 L754.52,286.12 L756.47,284.81 L758.43,283.52 L760.38,282.22 L762.33,280.92 L763.85,279.91 L766.23,278.33 L768.18,277.04 L770.13,275.75 L772.08,274.46 L774.03,273.17 L775.45,272.24 L775.98,271.89 L777.93,270.60 L779.89,269.32 L781.84,268.04 L783.79,266.76 L785.74,265.48 L786.80,264.79 L787.69,264.20 L789.64,262.92 L791.59,261.65 L793.54,260.38 L795.49,259.10 L797.44,257.84 L799.40,256.57 L801.35,255.30 L803.30,254.03 L805.25,252.77 L807.20,251.51 L808.71,250.53 L811.10,248.99 L813.05,247.73 L815.00,246.48 L816.95,245.22 L818.91,243.97 L820.86,242.72 L822.81,241.47 L824.76,240.23 L826.71,238.98 L828.66,237.74 L829.65,237.11 L830.61,236.50 L832.56,235.26 L834.51,234.02 L836.46,232.78 L838.42,231.55 L839.76,230.70 L840.37,230.31 L842.32,229.08 L844.27,227.85 L846.22,226.63 L848.17,225.40 L849.64,224.48 L852.07,222.96 L854.02,221.74 L855.97,220.52 L857.92,219.30 L859.30,218.45 L859.88,218.09 L861.83,216.88 L863.78,215.67 L865.73,214.46 L867.68,213.26 L868.74,212.60 L869.63,212.05 L871.58,210.85 L873.53,209.65 L875.48,208.46 L877.43,207.26 L877.97,206.93 L879.39,206.07 L881.34,204.88 L883.29,203.69 L885.24,202.50 L886.99,201.44 L889.14,200.14 L891.09,198.96 L893.04,197.78 L894.99,196.60 L895.80,196.12 L896.94,195.43 L898.90,194.26 L900.85,193.09 L902.80,191.93 L904.41,190.96 L906.70,189.60 L908.65,188.44 L910.60,187.29 L912.55,186.13 L914.50,184.98 L916.45,183.84 L918.40,182.69 L920.36,181.55 L921.05,181.14 L922.31,180.41 L924.26,179.27 L926.21,178.13 L928.16,177.00 L929.09,176.46 L930.11,175.87 L932.06,174.74 L934.01,173.62 L935.96,172.50 L936.95,171.93 L937.91,171.38 L939.87,170.26 L941.82,169.15 L943.77,168.04 L944.63,167.55 L945.72,166.93 L947.67,165.83 L949.62,164.73 L951.57,163.63 L952.13,163.32 L953.52,162.54 L955.47,161.44 L957.42,160.36 L959.38,159.27 L961.33,158.19 L963.28,157.11 L965.23,156.03 L966.63,155.26 L967.18,154.96 L969.13,153.89 L971.08,152.83 L973.03,151.77 L973.64,151.44 L974.98,150.71 L976.93,149.65 L978.89,148.60 L980.49,147.74 L982.79,146.51 L984.74,145.47 L986.69,144.43 L988.64,143.40 L990.59,142.37 L992.54,141.35 L993.72,140.73 L994.49,140.33 L996.44,139.31 L998.39,138.29 L1000.11,137.41 L1002.30,136.28 L1004.25,135.28 L1006.20,134.28 L1008.15,133.29 L1010.10,132.30 L1012.05,131.32 L1014.00,130.34 L1015.95,129.37 L1017.90,128.40 L1019.86,127.43 L1021.81,126.47 L1023.76,125.52 L1025.71,124.57 L1027.66,123.62 L1029.61,122.68 L1031.56,121.74 L1033.51,120.81 L1035.46,119.89 L1037.41,118.97 L1039.37,118.05 L1040.96,117.31 L1043.27,116.24 L1045.22,115.34 L1046.28,114.86 L1047.17,114.45 L1049.12,113.56 L1051.07,112.68 L1053.02,111.81 L1054.97,110.94 L1056.56,110.24 L1058.88,109.22 L1060.83,108.37 L1061.53,108.07 L1062.78,107.53 L1064.73,106.70 L1066.38,105.99 L1068.63,105.04 L1070.58,104.23 L1072.53,103.42 L1074.48,102.62 L1075.76,102.10 L1076.43,101.82 L1078.38,101.04 L1080.29,100.28 L1082.29,99.49 L1084.24,98.72 L1086.19,97.97 L1088.14,97.22 L1089.04,96.88 L1090.09,96.48 L1092.04,95.75 L1093.27,95.30 L1093.99,95.03 L1095.94,94.32 L1097.40,93.80 L1099.85,92.92 L1101.44,92.36 L1103.75,91.57 L1105.39,91.01 L1107.65,90.25 L1109.24,89.72 L1111.55,88.97 L1113.01,88.50 L1115.45,87.73 L1116.70,87.35 L1117.40,87.13 L1119.36,86.54 L1120.30,86.26 L1121.31,85.96 L1123.26,85.40 L1125.21,84.85 L1127.16,84.30 L1129.11,83.78 L1130.62,83.38 L1133.01,82.76 L1133.90,82.54 L1134.96,82.28 L1136.91,81.80 L1138.86,81.35 L1140.25,81.03 L1142.77,80.48 L1144.72,80.07 L1146.32,79.75 L1148.62,79.30 L1149.25,79.18 L1150.57,78.94 L1152.11,78.67 L1154.47,78.28 L1156.42,77.97 L1157.64,77.79 L1158.37,77.69 L1160.31,77.43 L1162.28,77.18 L1162.92,77.11 L1164.23,76.96 L1165.48,76.83 L1166.18,76.76 L1167.97,76.60 L1170.08,76.44 L1172.03,76.31 L1172.79,76.27 L1173.98,76.21 L1175.12,76.16 L1175.93,76.14 L1177.40,76.10 L1179.62,76.07 L1181.79,76.09 L1183.74,76.13 L1185.69,76.21 L1187.64,76.32 L1189.59,76.47 L1191.54,76.65 L1193.49,76.87 L1195.44,77.13 L1197.39,77.44 L1199.27,77.77 L1200.99,78.12 L1202.68,78.50 L1204.33,78.90 L1205.20,79.13 L1205.95,79.33 L1207.15,79.68 L1209.06,80.27 L1210.57,80.78 L1212.04,81.32 L1213.00,81.69 L1214.88,82.46 L1216.26,83.07 L1216.90,83.37 L1217.60,83.70 L1218.85,84.32 L1220.19,85.03 L1220.81,85.36 L1221.45,85.72 L1222.67,86.44 L1223.87,87.17 L1224.71,87.71 L1226.18,88.70 L1227.30,89.49 L1228.39,90.30 L1229.46,91.13 L1230.50,91.98 L1231.52,92.84 L1232.51,93.71 L1233.49,94.61 L1234.44,95.52 L1235.37,96.45 L1236.28,97.39 L1237.17,98.34 L1238.04,99.31 L1238.88,100.29 L1239.71,101.29 L1240.32,102.04 L1241.32,103.32 L1242.09,104.36 L1242.85,105.41 L1243.59,106.46 L1244.22,107.40 L1245.01,108.62 L1245.70,109.71 L1246.17,110.47 L1247.04,111.93 L1247.68,113.05 L1248.12,113.84 L1248.93,115.33 L1249.53,116.49 L1250.07,117.56 L1250.69,118.82 L1251.25,120.00 L1251.80,121.19 L1252.34,122.39 L1252.86,123.60 L1253.37,124.81 L1253.87,126.03 L1254.36,127.26 L1254.84,128.50 L1255.31,129.74 L1255.76,131.00 L1256.21,132.25 L1256.65,133.52 L1257.07,134.79 L1257.49,136.07 L1257.87,137.28 L1258.29,138.64 L1258.68,139.94 L1259.06,141.24 L1259.43,142.55 L1259.80,143.86 L1260.15,145.18 L1260.50,146.50 L1260.84,147.83 L1261.17,149.17 L1261.49,150.51 L1261.78,151.71 L1262.12,153.20 L1262.42,154.55 L1262.71,155.91 L1263.00,157.27 L1263.29,158.63 L1263.56,160.00 L1263.73,160.85 L1264.09,162.75 L1264.35,164.13 L1264.60,165.52 L1264.85,166.91 L1265.09,168.30 L1265.32,169.70 L1265.55,171.09 L1265.68,171.88 L1265.78,172.50 L1266.00,173.90 L1266.21,175.31 L1266.42,176.72 L1266.62,178.13 L1266.82,179.55 L1267.02,180.97 L1267.21,182.39 L1267.40,183.82 L1267.58,185.25 L1267.76,186.68 L1267.93,188.11 L1268.10,189.55 L1268.27,190.98 L1268.43,192.42 L1268.59,193.87 L1268.74,195.31 L1268.90,196.76 L1269.04,198.21 L1269.19,199.66 L1269.33,201.11 L1269.47,202.56 L1269.58,203.75 L1269.74,205.48 L1269.87,206.94 L1269.99,208.40 L1270.12,209.86 L1270.24,211.33 L1270.35,212.79 L1270.47,214.26 L1270.58,215.73 L1270.69,217.20 L1270.80,218.68 L1270.91,220.15 L1271.01,221.63 L1271.11,223.10 L1271.21,224.58 L1271.30,226.06 L1271.40,227.54 L1271.49,229.02 L1271.53,229.74 L1271.58,230.51 L1271.66,231.99 L1271.75,233.48 L1271.83,234.96 L1271.92,236.45 L1272.00,237.94 L1272.07,239.43 L1272.15,240.92 L1272.22,242.41 L1272.30,243.90 L1272.37,245.40 L1272.44,246.89 L1272.51,248.39 L1272.57,249.88 L1272.64,251.38 L1272.70,252.88 L1272.76,254.38 L1272.82,255.88 L1272.88,257.38 L1272.94,258.88 L1273.00,260.38 L1273.05,261.88 L1273.11,263.38 L1273.16,264.89 L1273.21,266.39 L1273.26,267.90 L1273.31,269.40 L1273.36,270.91 L1273.41,272.42 L1273.45,273.92 L1273.48,274.94 L1273.54,276.94 L1273.58,278.45 L1273.63,279.96 L1273.67,281.47 L1273.71,282.98 L1273.75,284.49 L1273.78,286.00 L1273.82,287.51 L1273.86,289.02 L1273.89,290.54 L1273.93,292.05 L1273.96,293.56 L1274.00,295.08 L1274.03,296.59 L1274.06,298.11 L1274.09,299.62 L1274.12,301.14 L1274.15,302.65 L1274.18,304.17 L1274.21,305.69 L1274.24,307.20 L1274.26,308.72 L1274.29,310.24 L1274.32,311.76 L1274.34,313.27 L1274.37,314.79 L1274.39,316.31 L1274.42,317.83 L1274.44,319.35 L1274.46,320.87 L1274.48,322.39 L1274.50,323.91 L1274.53,325.43 L1274.55,326.95 L1274.57,328.47 L1274.59,329.99 L1274.61,331.51 L1274.62,333.03 L1274.64,334.55 L1274.66,336.08 L1274.68,337.60 L1274.70,339.12 L1274.71,340.64 L1274.73,342.16 L1274.74,343.69 L1274.76,345.21 L1274.78,346.73 L1274.79,348.26 L1274.80,349.78 L1274.82,351.30 L1274.83,352.83 L1274.85,354.35 L1274.86,355.87 L1274.87,357.40 L1274.89,358.92 L1274.90,360.45 L1274.91,361.97 L1274.92,363.49 L1274.93,365.02 L1274.95,366.54 L1274.96,368.07 L1274.97,369.59 L1274.98,371.12 L1274.99,372.64 L1275.00,374.17 L1275.01,375.70 L1275.02,377.22 L1275.03,378.75 L1275.04,380.27 L1275.05,381.80 L1275.05,383.32 L1275.06,384.85 L1275.07,386.38 L1275.08,387.90 L1275.09,389.43 L1275.10,390.96 L1275.10,392.48 L1275.11,394.01 L1275.12,395.53 L1275.13,397.06 L1275.13,398.59 L1275.14,400.11 L1275.15,401.64 L1275.15,403.17 L1275.16,404.70 L1275.17,406.22 L1275.17,407.75 L1275.18,409.28 L1275.18,410.80 L1275.19,412.33 L1275.19,413.86 L1275.20,415.39 L1275.20,416.91 L1275.21,418.44 L1275.22,419.97 L1275.22,421.50 L1275.23,423.02 L1275.23,424.55 L1275.23,426.08 L1275.24,427.61 L1275.24,429.13 L1275.25,430.66 L1275.25,432.19 L1275.26,433.72 L1275.26,435.25 L1275.26,436.77 L1275.27,438.30 L1275.27,439.83 L1275.28,441.36 L1275.28,442.89 L1275.28,444.41 L1275.29,445.94 L1275.29,447.47 L1275.29,449.00 L1275.30,450.53 L1275.30,452.06 L1275.30,453.58 L1275.31,455.11 L1275.31,456.64 L1275.31,458.17 L1275.31,459.70 L1275.32,461.23 L1275.32,462.75 L1275.32,464.28 L1275.32,465.81 L1275.33,467.34 L1275.33,468.87 L1275.33,470.40 L1275.33,471.93 L1275.34,473.45 L1275.34,474.98 L1275.34,476.51 L1275.34,478.04 L1275.34,479.57 L1275.35,481.10 L1275.35,482.63 L1275.35,484.16 L1275.35,485.68 L1275.35,487.21 L1275.36,488.74 L1275.36,490.27 L1275.36,491.80 L1275.36,493.33 L1275.36,494.86 L1275.36,496.39 L1275.37,497.91 L1275.37,499.44 L1275.37,500.97 L1275.37,502.50 L1275.37,504.03 L1275.37,505.56 L1275.38,507.09 L1275.38,508.62 L1275.38,510.15 L1275.38,511.67 L1275.38,513.20 L1275.38,514.73 L1275.38,516.26 L1275.38,517.79 L1275.39,519.32 L1275.39,520.85 L1275.39,522.38 L1275.39,523.91 L1275.39,525.44 L1275.39,526.96 L1275.39,528.49 L1275.39,530.02 L1275.39,531.55 L1275.39,533.08 L1275.40,534.61 L1275.40,536.14 L1275.40,537.67 L1275.40,539.20 L1275.40,540.73 L1275.40,542.26 L1275.40,543.78 L1275.40,545.31 L1275.40,546.84 L1275.40,548.37 L1275.40,549.90 L1275.40,551.43 L1275.40,552.96 L1275.41,554.49 L1275.41,556.02 L1275.41,557.55 L1275.41,559.08 L1275.41,560.61 L1275.41,562.13 L1275.41,563.66 L1275.41,565.19 L1275.41,566.72 L1275.41,568.25 L1275.41,569.78 L1275.41,571.31 L1275.41,572.84 L1275.41,574.37 L1275.41,575.90 L1275.41,577.43 L1275.41,578.96 L1275.41,580.49 L1275.42,582.01 L1275.42,583.54 L1275.42,585.07 L1275.42,586.60 L1275.42,588.13 L1275.42,589.66 L1275.42,591.19 L1275.42,592.72 L1275.42,594.25 L1275.42,595.78 L1275.42,597.31 L1275.42,598.84 L1275.42,600.37 L1275.42,601.89 L1275.42,603.42 L1275.42,604.95 L1275.42,606.48 L1275.42,608.01 L1275.42,609.54 L1275.42,611.07 L1275.42,612.60 L1275.42,614.13 L1275.42,615.66 L1275.42,617.19 L1275.42,618.72 L1275.42,620.25 L1275.42,621.77 L1275.42,623.30 L1275.42,624.83 L1275.42,626.36 L1275.42,627.89 L1275.42,629.42 L1275.43,630.95 L1275.43,632.48 L1275.43,634.01 L1275.43,635.54 L1275.43,637.07 L1275.43,638.60 L1275.43,640.13 L1275.43,641.66 L1275.43,643.18 L1275.43,644.71 L1275.43,646.24 L1275.43,647.77 L1275.43,649.30 L1275.43,650.83 L1275.43,652.36 L1275.43,653.89 L1275.43,655.42 L1275.43,656.95 L1275.43,658.48 L1275.43,660.01 L1275.43,661.54 L1275.43,663.07 L1275.43,664.59 L1275.43,666.12 L1275.43,667.65 L1275.43,669.18 L1275.43,670.71 L1275.43,672.24 L1275.43,673.77 L1275.43,675.30 L1275.43,676.83 L1275.43,678.36 L1275.43,679.89 L1275.43,681.42 L1275.43,682.95 L1275.43,684.48 L1275.43,686.01 L1275.43,687.53 L1275.43,689.06 L1275.43,690.59 L1275.43,692.12 L1275.43,693.65 L1275.43,695.18 L1275.43,696.71 L1275.43,698.24 L1275.43,699.77 L1275.43,701.30 L1275.43,702.83 L1275.43,704.36 L1275.43,705.89 L1275.43,707.42 L1275.43,708.94 L1275.43,710.47 L1275.43,712.00 L1275.43,713.53 L1275.43,715.06 L1275.43,716.59 L1275.43,718.12 L1275.43,719.65 L1275.43,721.18 L1275.43,722.71 L1275.43,724.24 L1275.43,725.77 L1275.43,727.30 L1275.43,728.83 L1275.43,730.36 L1275.43,731.88 L1275.43,733.41 L1275.43,734.94 L1275.43,736.47 L1275.43,738.00 L1275.43,739.53 L1275.43,741.06 L1275.43,742.59 L1275.43,744.12 L1275.43,745.65 L1275.43,747.18 L1275.43,748.71 L1275.43,750.24 L1275.43,751.77 L1275.43,753.29 L1275.43,754.82 L1275.43,756.35 L1275.43,757.88 L1275.43,759.41 L1275.43,760.94 L1275.43,762.47 L1275.43,764.00" fill="none" stroke="#d6242e" stroke-width="1.6" stroke-linejoin="round"/>
<path d="M127.34,764.00 L1193.42,76.34" fill="none" stroke="#1c10b8" stroke-width="1.6"/>
<path d="M103.80,761.00 L109.80,767.00 M103.80,767.00 L109.80,761.00" stroke="#111" stroke-width="1.4" fill="none"/>
<path d="M316.11,643.28 L322.11,649.28 M316.11,649.28 L322.11,643.28" stroke="#111" stroke-width="1.4" fill="none"/>
<path d="M530.58,508.38 L536.58,514.38 M530.58,514.38 L536.58,508.38" stroke="#111" stroke-width="1.4" fill="none"/>
<path d="M746.06,366.93 L752.06,372.93 M746.06,372.93 L752.06,366.93" stroke="#111" stroke-width="1.4" fill="none"/>
<path d="M960.96,221.21 L966.96,227.21 M960.96,227.21 L966.96,221.21" stroke="#111" stroke-width="1.4" fill="none"/>
<path d="M1177.59,72.63 L1183.59,78.63 M1177.59,78.63 L1183.59,72.63" stroke="#111" stroke-width="1.4" fill="none"/>
<text x="106.80" y="801.8" text-anchor="middle" font-size="29" fill="#262626">0</text>
<text x="250.93" y="801.8" text-anchor="middle" font-size="29" fill="#262626">1</text>
<text x="395.07" y="801.8" text-anchor="middle" font-size="29" fill="#262626">2</text>
<text x="539.20" y="801.8" text-anchor="middle" font-size="29" fill="#262626">3</text>
<text x="683.33" y="801.8" text-anchor="middle" font-size="29" fill="#262626">4</text>
<text x="827.47" y="801.8" text-anchor="middle" font-size="29" fill="#262626">5</text>
<text x="971.60" y="801.8" text-anchor="middle" font-size="29" fill="#262626">6</text>
<text x="1115.73" y="801.8" text-anchor="middle" font-size="29" fill="#262626">7</text>
<text x="1259.87" y="801.8" text-anchor="middle" font-size="29" fill="#262626">8</text>
<text x="1404.00" y="801.8" text-anchor="middle" font-size="29" fill="#262626">9</text>
<text x="97.5" y="774.40" text-anchor="end" font-size="29" fill="#262626">0</text>
<text x="97.5" y="703.14" text-anchor="end" font-size="29" fill="#262626">20</text>
<text x="97.5" y="631.88" text-anchor="end" font-size="29" fill="#262626">40</text>
<text x="97.5" y="560.62" text-anchor="end" font-size="29" fill="#262626">60</text>
<text x="97.5" y="489.36" text-anchor="end" font-size="29" fill="#262626">80</text>
<text x="97.5" y="418.10" text-anchor="end" font-size="29" fill="#262626">100</text>
<text x="97.5" y="346.84" text-anchor="end" font-size="29" fill="#262626">120</text>
<text x="97.5" y="275.58" text-anchor="end" font-size="29" fill="#262626">140</text>
<text x="97.5" y="204.32" text-anchor="end" font-size="29" fill="#262626">160</text>
<text x="97.5" y="133.06" text-anchor="end" font-size="29" fill="#262626">180</text>
<text x="97.5" y="61.80" text-anchor="end" font-size="29" fill="#262626">200</text>
<text x="755.4" y="846.3" text-anchor="middle" font-size="34.8" fill="#262626">Current [A]</text>
<text transform="translate(27.0,407.5) rotate(-90)" x="0" y="0" text-anchor="middle" font-size="34.8" fill="#262626">Power [W]</text>
<text x="754.4" y="37" text-anchor="middle" font-size="32" font-weight="bold" fill="#000">Power vs Current for T=20<tspan font-size="20" dy="-12">o</tspan><tspan dy="12">C, G from 0 to 1000 W/m</tspan><tspan font-size="23" dy="-16">2</tspan><tspan dy="16"> by 200 W/m</tspan><tspan font-size="23" dy="-16">2</tspan></text>
<rect x="174.5" y="78.5" width="268.5" height="299.3" fill="#fff" stroke="#4a4a4a" stroke-width="1.2"/>
<line x1="178" y1="98.50" x2="212" y2="98.50" stroke="#d6242e" stroke-width="1.6"/>
<text x="215" y="108.80" font-size="29" fill="#000">G=0</text>
<line x1="178" y1="135.60" x2="212" y2="135.60" stroke="#d6242e" stroke-width="1.6"/>
<text x="215" y="145.90" font-size="29" fill="#000">G=200</text>
<line x1="178" y1="172.70" x2="212" y2="172.70" stroke="#d6242e" stroke-width="1.6"/>
<text x="215" y="183.00" font-size="29" fill="#000">G=400</text>
<line x1="178" y1="209.80" x2="212" y2="209.80" stroke="#d6242e" stroke-width="1.6"/>
<text x="215" y="220.10" font-size="29" fill="#000">G=600</text>
<line x1="178" y1="246.90" x2="212" y2="246.90" stroke="#d6242e" stroke-width="1.6"/>
<text x="215" y="257.20" font-size="29" fill="#000">G=800</text>
<line x1="178" y1="284.00" x2="212" y2="284.00" stroke="#d6242e" stroke-width="1.6"/>
<text x="215" y="294.30" font-size="29" fill="#000">G=1000</text>
<path d="M192,318.10 L198,324.10 M192,324.10 L198,318.10" stroke="#111" stroke-width="1.3" fill="none"/>
<text x="215" y="331.40" font-size="29" fill="#000">Optimal points</text>
<line x1="178" y1="358.20" x2="212" y2="358.20" stroke="#1c10b8" stroke-width="1.6"/>
<text x="215" y="368.50" font-size="29" fill="#000">Linear regression</text>
</svg>
</body></html>
